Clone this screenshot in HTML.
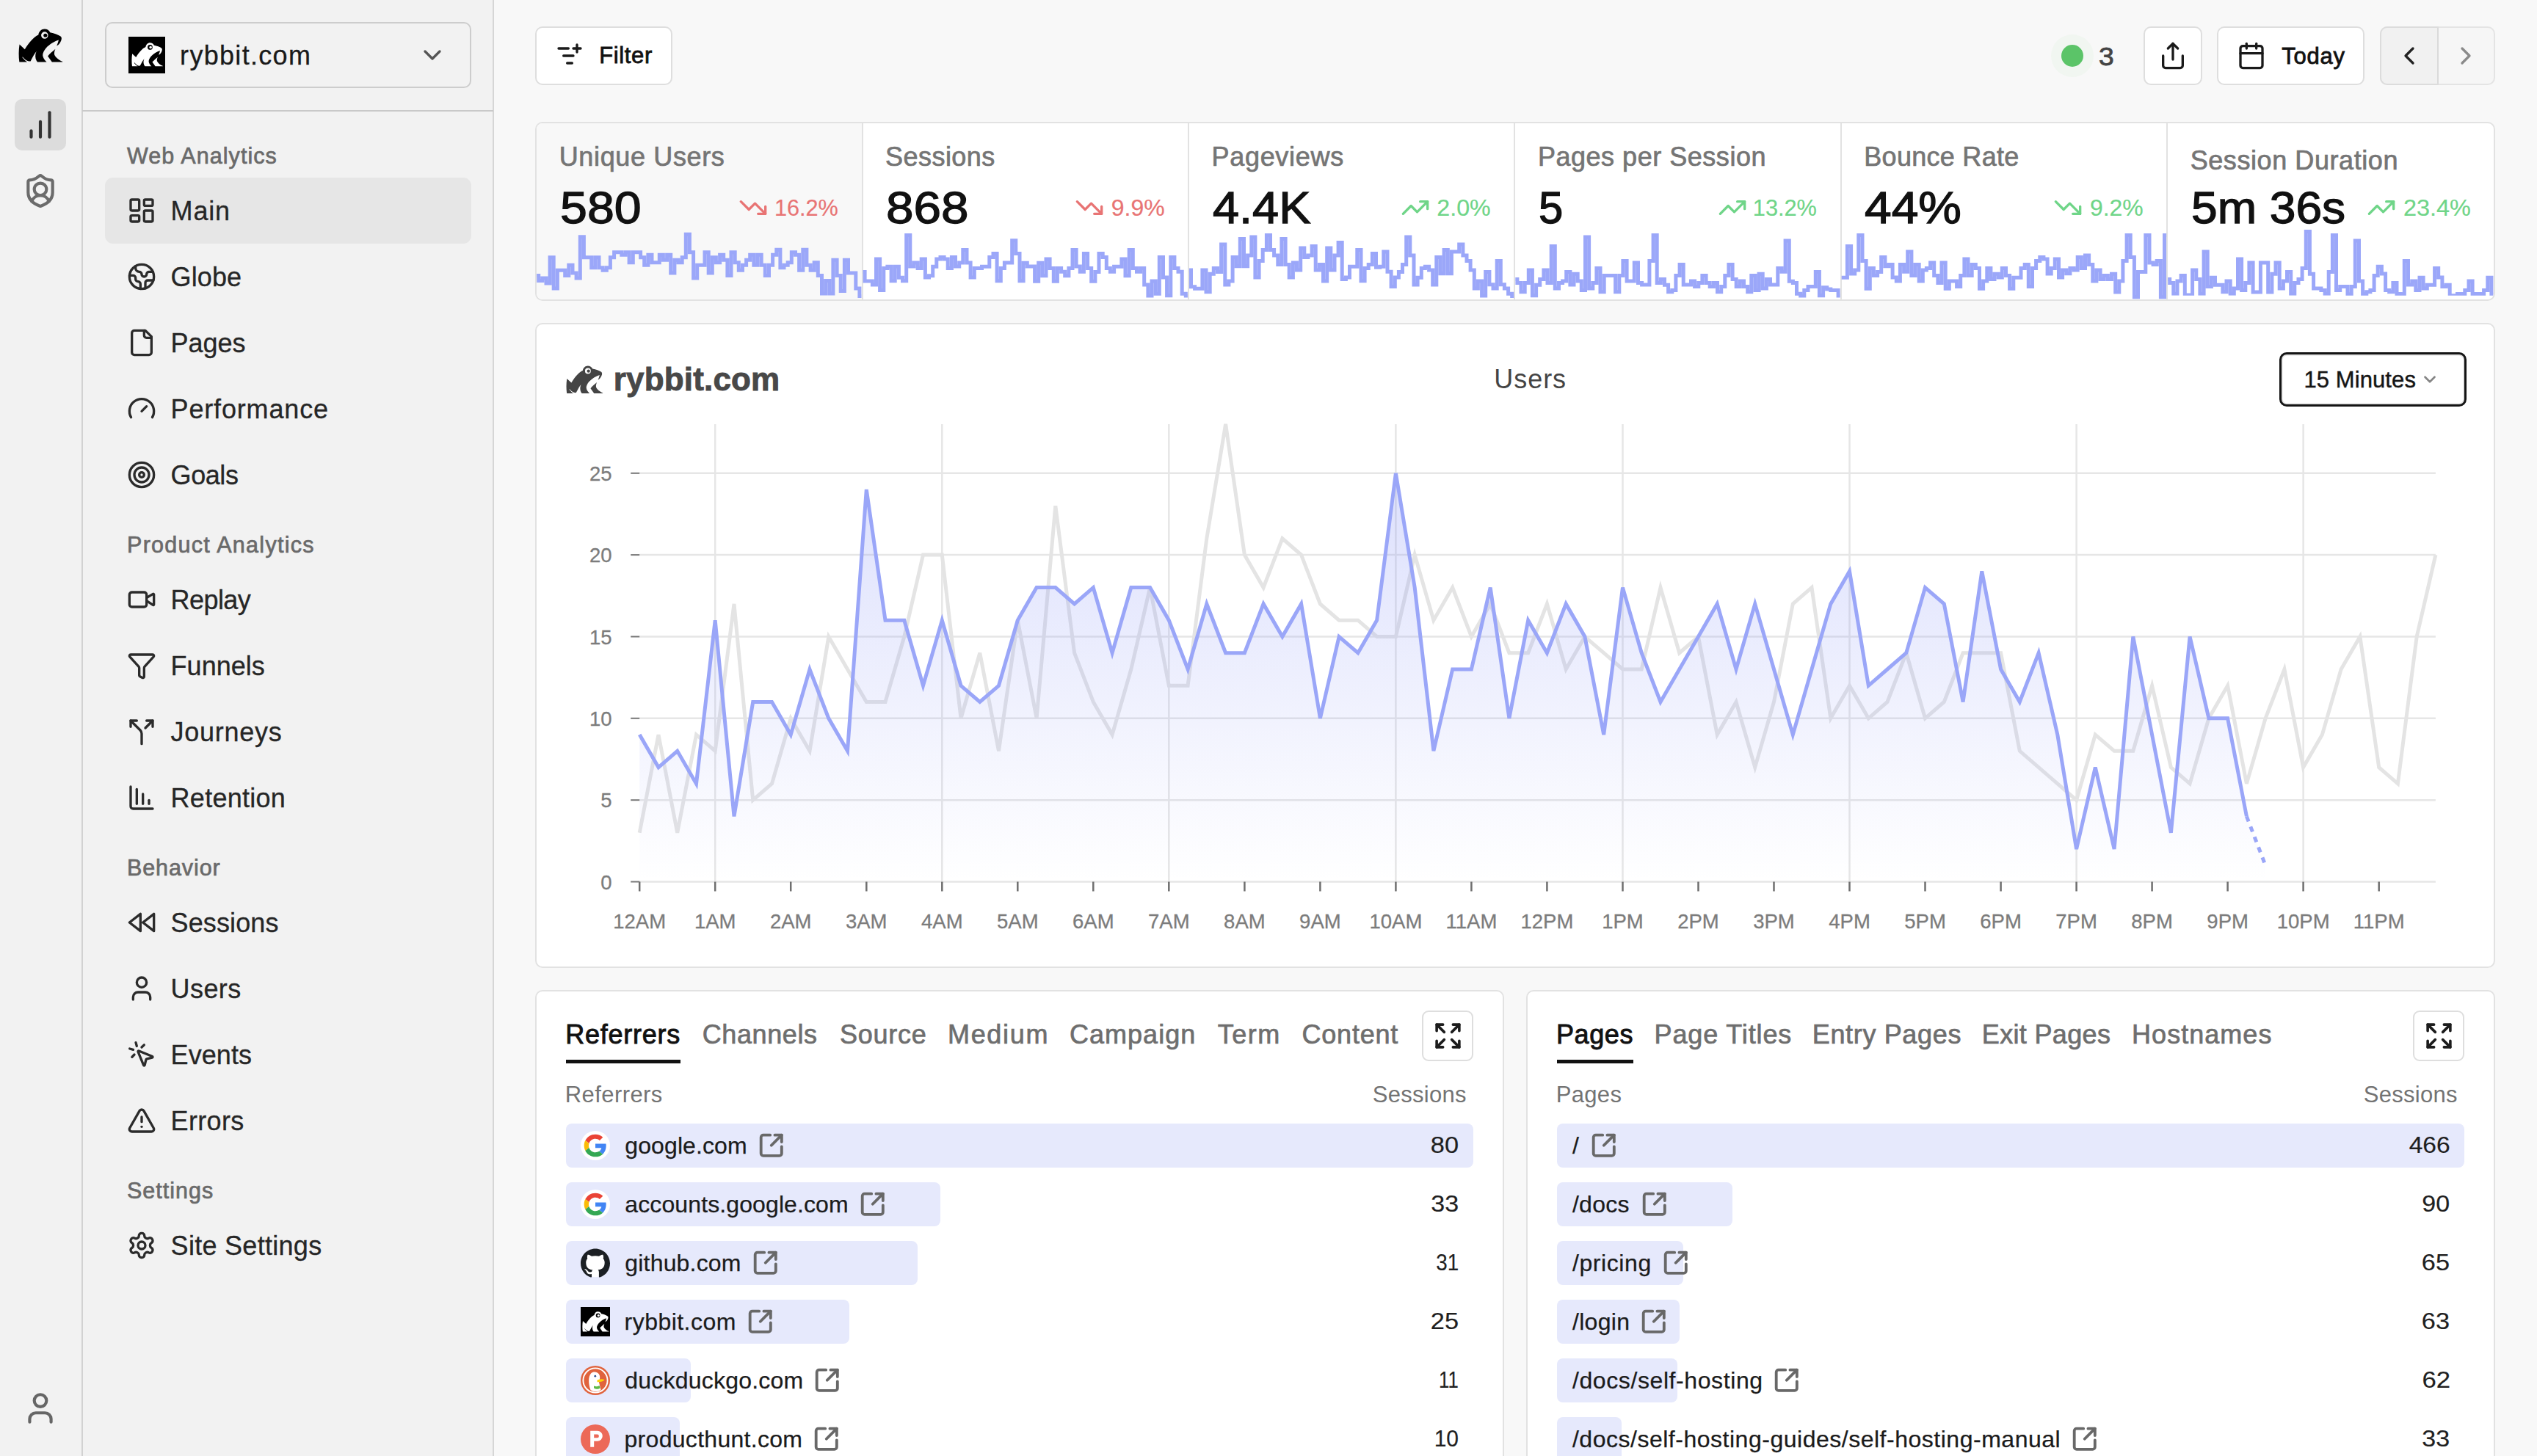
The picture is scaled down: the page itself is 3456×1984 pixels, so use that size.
<!DOCTYPE html>
<html><head><meta charset="utf-8"><title>Rybbit Analytics</title>
<style>
html,body{margin:0;padding:0;background:#f8f8f8;width:3456px;height:1984px;overflow:hidden;}
#root{position:relative;width:3456px;height:1984px;overflow:hidden;font-family:"Liberation Sans",sans-serif;}
.t{position:absolute;white-space:nowrap;}
.i{position:absolute;display:block;overflow:visible;}
.b{position:absolute;}
</style></head><body><div id="root">
<svg width="0" height="0" style="position:absolute"><defs><g id="frog">
<path fill-rule="evenodd" d="M245,1212 C222,1050 222,850 250,683 L410,830 C520,640 680,450 820,392 C832,290 915,215 1000,215 C1090,215 1150,260 1175,322 C1300,345 1420,390 1490,440 C1522,468 1528,500 1508,560 C1482,632 1440,692 1372,728 C1400,660 1420,600 1432,548 C1300,588 1150,680 1050,790 C990,860 950,940 950,1010 C955,1090 1010,1160 1068,1212 L790,1212 C740,1160 718,1060 733,980 C743,930 758,900 772,882 C700,960 650,1060 582,1190 C540,1197 500,1187 468,1170 C420,1140 380,1100 347,1058 L333,1068 C380,1130 430,1180 482,1212 Z M1113,405 A105,105 0 1,0 903,405 A105,105 0 1,0 1113,405 Z"/>
<circle cx="1030" cy="408" r="56"/>
<path d="M1332,818 C1250,890 1160,960 1103,1035 L1230,1212 L1548,1212 L1546,1198 C1450,1160 1340,1080 1303,990 C1290,930 1310,870 1332,818 Z"/>
</g></defs></svg>
<div class="b" style="left:0.00px;top:0.00px;width:3456.00px;height:1984.00px;background:#f8f8f8"></div>
<div class="b" style="left:0.00px;top:0.00px;width:673.00px;height:1984.00px;background:#f2f2f2"></div>
<div class="b" style="left:110.50px;top:0.00px;width:2.00px;height:1984.00px;background:#d2d2d2"></div>
<div class="b" style="left:671.20px;top:0.00px;width:2.00px;height:1984.00px;background:#d6d6d6"></div>
<div class="b" style="left:112.00px;top:149.50px;width:560.00px;height:2.50px;background:#c9c9c9"></div>
<svg class="i" style="left:24.50px;top:39.00px" width="60.50" height="45.47" viewBox="215 205 1340 1007"><use href="#frog" fill="#000"/></svg>
<div class="b" style="left:20.00px;top:135.00px;width:70.00px;height:70.00px;background:#dcdcdc;border-radius:10px"></div>
<svg class="i" style="left:30.00px;top:145.00px;" width="50" height="50" viewBox="0 0 24 24" fill="none" stroke="#333" stroke-width="2" stroke-linecap="round" stroke-linejoin="round"><line x1="12" x2="12" y1="20" y2="10"/><line x1="18" x2="18" y1="20" y2="4"/><line x1="6" x2="6" y1="20" y2="16"/></svg>
<svg class="i" style="left:30.00px;top:235.00px;" width="50" height="50" viewBox="0 0 24 24" fill="none" stroke="#6b6b6b" stroke-width="2" stroke-linecap="round" stroke-linejoin="round"><path d="M20 13c0 5-3.5 7.5-7.66 8.95a1 1 0 0 1-.67-.01C7.5 20.5 4 18 4 13V6a1 1 0 0 1 1-1c2 0 4.5-1.2 6.24-2.72a1.17 1.17 0 0 1 1.52 0C14.51 3.81 17 5 19 5a1 1 0 0 1 1 1z"/><path d="M6.376 18.91a6 6 0 0 1 11.249.003"/><circle cx="12" cy="11" r="4"/></svg>
<svg class="i" style="left:30.00px;top:1893.50px;" width="50" height="50" viewBox="0 0 24 24" fill="none" stroke="#666" stroke-width="2" stroke-linecap="round" stroke-linejoin="round"><path d="M19 21v-2a4 4 0 0 0-4-4H9a4 4 0 0 0-4 4v2"/><circle cx="12" cy="7" r="4"/></svg>
<div class="b" style="left:143.00px;top:30.00px;width:498.50px;height:90.00px;border:2px solid #cdcdcd;border-radius:10px;box-sizing:border-box"></div>
<div class="b" style="left:175.00px;top:50.00px;width:50.00px;height:50.00px;background:#000"></div>
<svg class="i" style="left:178.50px;top:58.00px" width="43.00" height="32.31" viewBox="215 205 1340 1007"><use href="#frog" fill="#fff"/></svg>
<span class="t" style="left:245.11px;top:57.53px;font-size:36px;line-height:36px;color:#1a1a1a;font-weight:400;letter-spacing:1.304px;-webkit-text-stroke:0.3px #1a1a1a;">rybbit.com</span>
<svg class="i" style="left:568.75px;top:55.00px;" width="40" height="40" viewBox="0 0 24 24" fill="none" stroke="#555" stroke-width="2" stroke-linecap="round" stroke-linejoin="round"><path d="m6 9 6 6 6-6"/></svg>
<span class="t" style="left:173.00px;top:196.78px;font-size:30.5px;line-height:30.5px;color:#6a6a6a;font-weight:400;letter-spacing:1.07px;-webkit-text-stroke:0.7px #6a6a6a;">Web Analytics</span>
<div class="b" style="left:143.00px;top:242.00px;width:498.50px;height:90.00px;background:#e6e6e6;border-radius:11px"></div>
<svg class="i" style="left:172.75px;top:266.50px;" width="40" height="40" viewBox="0 0 24 24" fill="none" stroke="#2b2b2b" stroke-width="2" stroke-linecap="round" stroke-linejoin="round"><rect width="7" height="9" x="3" y="3" rx="1"/><rect width="7" height="5" x="14" y="3" rx="1"/><rect width="7" height="9" x="14" y="12" rx="1"/><rect width="7" height="5" x="3" y="16" rx="1"/></svg>
<span class="t" style="left:232.60px;top:269.63px;font-size:36px;line-height:36px;color:#262626;font-weight:400;letter-spacing:0.827px;-webkit-text-stroke:0.3px #262626;">Main</span>
<svg class="i" style="left:172.75px;top:356.50px;" width="40" height="40" viewBox="0 0 24 24" fill="none" stroke="#2b2b2b" stroke-width="2" stroke-linecap="round" stroke-linejoin="round"><path d="M21.54 15H17a2 2 0 0 0-2 2v4.54"/><path d="M7 3.34V5a3 3 0 0 0 3 3a2 2 0 0 1 2 2c0 1.1.9 2 2 2a2 2 0 0 0 2-2c0-1.1.9-2 2-2h3.17"/><path d="M11 21.95V18a2 2 0 0 0-2-2a2 2 0 0 1-2-2v-1a2 2 0 0 0-2-2H2.05"/><circle cx="12" cy="12" r="10"/></svg>
<span class="t" style="left:232.60px;top:359.63px;font-size:36px;line-height:36px;color:#262626;font-weight:400;letter-spacing:0.095px;-webkit-text-stroke:0.3px #262626;">Globe</span>
<svg class="i" style="left:172.75px;top:446.50px;" width="40" height="40" viewBox="0 0 24 24" fill="none" stroke="#2b2b2b" stroke-width="2" stroke-linecap="round" stroke-linejoin="round"><path d="M15 2H6a2 2 0 0 0-2 2v16a2 2 0 0 0 2 2h12a2 2 0 0 0 2-2V7Z"/><path d="M14 2v4a2 2 0 0 0 2 2h4"/></svg>
<span class="t" style="left:232.60px;top:449.63px;font-size:36px;line-height:36px;color:#262626;font-weight:400;letter-spacing:-0.03px;-webkit-text-stroke:0.3px #262626;">Pages</span>
<svg class="i" style="left:172.75px;top:536.50px;" width="40" height="40" viewBox="0 0 24 24" fill="none" stroke="#2b2b2b" stroke-width="2" stroke-linecap="round" stroke-linejoin="round"><path d="m12 14 4-4"/><path d="M3.34 19a10 10 0 1 1 17.32 0"/></svg>
<span class="t" style="left:232.60px;top:539.63px;font-size:36px;line-height:36px;color:#262626;font-weight:400;letter-spacing:0.83px;-webkit-text-stroke:0.3px #262626;">Performance</span>
<svg class="i" style="left:172.75px;top:626.50px;" width="40" height="40" viewBox="0 0 24 24" fill="none" stroke="#2b2b2b" stroke-width="2" stroke-linecap="round" stroke-linejoin="round"><circle cx="12" cy="12" r="10"/><circle cx="12" cy="12" r="6"/><circle cx="12" cy="12" r="2"/></svg>
<span class="t" style="left:232.60px;top:629.63px;font-size:36px;line-height:36px;color:#262626;font-weight:400;letter-spacing:-0.425px;-webkit-text-stroke:0.3px #262626;">Goals</span>
<span class="t" style="left:173.00px;top:727.28px;font-size:30.5px;line-height:30.5px;color:#6a6a6a;font-weight:400;letter-spacing:1.286px;-webkit-text-stroke:0.7px #6a6a6a;">Product Analytics</span>
<svg class="i" style="left:172.75px;top:796.50px;" width="40" height="40" viewBox="0 0 24 24" fill="none" stroke="#2b2b2b" stroke-width="2" stroke-linecap="round" stroke-linejoin="round"><path d="m16 13 5.223 3.482a.5.5 0 0 0 .777-.416V7.87a.5.5 0 0 0-.752-.432L16 10.5"/><rect x="2" y="6" width="14" height="12" rx="2"/></svg>
<span class="t" style="left:232.60px;top:799.63px;font-size:36px;line-height:36px;color:#262626;font-weight:400;letter-spacing:-0.572px;-webkit-text-stroke:0.3px #262626;">Replay</span>
<svg class="i" style="left:172.75px;top:886.50px;" width="40" height="40" viewBox="0 0 24 24" fill="none" stroke="#2b2b2b" stroke-width="2" stroke-linecap="round" stroke-linejoin="round"><path d="M10 20a1 1 0 0 0 .553.895l2 1A1 1 0 0 0 14 21v-7a2 2 0 0 1 .517-1.341L21.74 4.67A1 1 0 0 0 21 3H3a1 1 0 0 0-.742 1.67l7.225 7.989A2 2 0 0 1 10 14z"/></svg>
<span class="t" style="left:232.60px;top:889.63px;font-size:36px;line-height:36px;color:#262626;font-weight:400;letter-spacing:0.013px;-webkit-text-stroke:0.3px #262626;">Funnels</span>
<svg class="i" style="left:172.75px;top:976.50px;" width="40" height="40" viewBox="0 0 24 24" fill="none" stroke="#2b2b2b" stroke-width="2" stroke-linecap="round" stroke-linejoin="round"><path d="M16 3h5v5"/><path d="M8 3H3v5"/><path d="M12 22v-8.3a4 4 0 0 0-1.172-2.872L3 3"/><path d="m15 9 6-6"/></svg>
<span class="t" style="left:232.60px;top:979.63px;font-size:36px;line-height:36px;color:#262626;font-weight:400;letter-spacing:0.734px;-webkit-text-stroke:0.3px #262626;">Journeys</span>
<svg class="i" style="left:172.75px;top:1066.50px;" width="40" height="40" viewBox="0 0 24 24" fill="none" stroke="#2b2b2b" stroke-width="2" stroke-linecap="round" stroke-linejoin="round"><path d="M13 17V9"/><path d="M18 17v-3"/><path d="M3 3v16a2 2 0 0 0 2 2h16"/><path d="M8 17V5"/></svg>
<span class="t" style="left:232.60px;top:1069.63px;font-size:36px;line-height:36px;color:#262626;font-weight:400;letter-spacing:0.268px;-webkit-text-stroke:0.3px #262626;">Retention</span>
<span class="t" style="left:173.00px;top:1167.28px;font-size:30.5px;line-height:30.5px;color:#6a6a6a;font-weight:400;letter-spacing:0.896px;-webkit-text-stroke:0.7px #6a6a6a;">Behavior</span>
<svg class="i" style="left:172.75px;top:1236.50px;" width="40" height="40" viewBox="0 0 24 24" fill="none" stroke="#2b2b2b" stroke-width="2" stroke-linecap="round" stroke-linejoin="round"><polygon points="11 19 2 12 11 5 11 19"/><polygon points="22 19 13 12 22 5 22 19"/></svg>
<span class="t" style="left:232.60px;top:1239.63px;font-size:36px;line-height:36px;color:#262626;font-weight:400;letter-spacing:0.103px;-webkit-text-stroke:0.3px #262626;">Sessions</span>
<svg class="i" style="left:172.75px;top:1326.50px;" width="40" height="40" viewBox="0 0 24 24" fill="none" stroke="#2b2b2b" stroke-width="2" stroke-linecap="round" stroke-linejoin="round"><path d="M19 21v-2a4 4 0 0 0-4-4H9a4 4 0 0 0-4 4v2"/><circle cx="12" cy="7" r="4"/></svg>
<span class="t" style="left:232.60px;top:1329.63px;font-size:36px;line-height:36px;color:#262626;font-weight:400;letter-spacing:0.4px;-webkit-text-stroke:0.3px #262626;">Users</span>
<svg class="i" style="left:172.75px;top:1416.50px;" width="40" height="40" viewBox="0 0 24 24" fill="none" stroke="#2b2b2b" stroke-width="2" stroke-linecap="round" stroke-linejoin="round"><path d="M14 4.1 12 6"/><path d="m5.1 8-2.9-.8"/><path d="m6 12-1.9 2"/><path d="M7.2 2.2 8 5.1"/><path d="M9.037 9.69a.498.498 0 0 1 .653-.653l11 4.5a.5.5 0 0 1-.074.949l-4.349 1.041a1 1 0 0 0-.74.739l-1.04 4.35a.5.5 0 0 1-.95.074z"/></svg>
<span class="t" style="left:232.60px;top:1419.63px;font-size:36px;line-height:36px;color:#262626;font-weight:400;letter-spacing:0.072px;-webkit-text-stroke:0.3px #262626;">Events</span>
<svg class="i" style="left:172.75px;top:1506.50px;" width="40" height="40" viewBox="0 0 24 24" fill="none" stroke="#2b2b2b" stroke-width="2" stroke-linecap="round" stroke-linejoin="round"><path d="m21.73 18-8-14a2 2 0 0 0-3.48 0l-8 14A2 2 0 0 0 4 21h16a2 2 0 0 0 1.73-3"/><path d="M12 9v4"/><path d="M12 17h.01"/></svg>
<span class="t" style="left:232.60px;top:1509.63px;font-size:36px;line-height:36px;color:#262626;font-weight:400;letter-spacing:0.324px;-webkit-text-stroke:0.3px #262626;">Errors</span>
<span class="t" style="left:173.00px;top:1607.28px;font-size:30.5px;line-height:30.5px;color:#6a6a6a;font-weight:400;letter-spacing:1.012px;-webkit-text-stroke:0.7px #6a6a6a;">Settings</span>
<svg class="i" style="left:172.75px;top:1676.50px;" width="40" height="40" viewBox="0 0 24 24" fill="none" stroke="#2b2b2b" stroke-width="2" stroke-linecap="round" stroke-linejoin="round"><path d="M12.22 2h-.44a2 2 0 0 0-2 2v.18a2 2 0 0 1-1 1.73l-.43.25a2 2 0 0 1-2 0l-.15-.08a2 2 0 0 0-2.73.73l-.22.38a2 2 0 0 0 .73 2.73l.15.1a2 2 0 0 1 1 1.72v.51a2 2 0 0 1-1 1.74l-.15.09a2 2 0 0 0-.73 2.73l.22.38a2 2 0 0 0 2.73.73l.15-.08a2 2 0 0 1 2 0l.43.25a2 2 0 0 1 1 1.73V20a2 2 0 0 0 2 2h.44a2 2 0 0 0 2-2v-.18a2 2 0 0 1 1-1.73l.43-.25a2 2 0 0 1 2 0l.15.08a2 2 0 0 0 2.73-.73l.22-.39a2 2 0 0 0-.73-2.73l-.15-.08a2 2 0 0 1-1-1.74v-.5a2 2 0 0 1 1-1.74l.15-.09a2 2 0 0 0 .73-2.73l-.22-.38a2 2 0 0 0-2.73-.73l-.15.08a2 2 0 0 1-2 0l-.43-.25a2 2 0 0 1-1-1.73V4a2 2 0 0 0-2-2z"/><circle cx="12" cy="12" r="3"/></svg>
<span class="t" style="left:232.60px;top:1679.63px;font-size:36px;line-height:36px;color:#262626;font-weight:400;letter-spacing:0.287px;-webkit-text-stroke:0.3px #262626;">Site Settings</span>
<div class="b" style="left:729.00px;top:36.00px;width:186.50px;height:79.50px;background:#fff;border:2px solid #dedede;border-radius:10px;box-sizing:border-box"></div>
<svg class="i" style="left:756.00px;top:55.50px;" width="40" height="40" viewBox="0 0 24 24" fill="none" stroke="#1a1a1a" stroke-width="2" stroke-linecap="round" stroke-linejoin="round"><path d="M10 18h4"/><path d="M11 6H3"/><path d="M15 6h6"/><path d="M18 9V3"/><path d="M7 12h8"/></svg>
<span class="t" style="left:816.22px;top:60.36px;font-size:31px;line-height:31px;color:#111;font-weight:400;letter-spacing:0.625px;-webkit-text-stroke:0.8px #111;">Filter</span>
<div class="b" style="left:2794.00px;top:47.00px;width:58.00px;height:58.00px;background:#f1f6f1;border-radius:50%"></div>
<div class="b" style="left:2808.00px;top:61.00px;width:30.00px;height:30.00px;background:#5bc468;border-radius:50%"></div>
<span class="t" style="left:2858.91px;top:58.87px;font-size:35px;line-height:35px;color:#444;font-weight:400;-webkit-text-stroke:0.8px #444;transform:scaleX(1.0647);transform-origin:0 0;">3</span>
<div class="b" style="left:2920.00px;top:36.00px;width:79.50px;height:79.50px;background:#fff;border:2px solid #dedede;border-radius:10px;box-sizing:border-box"></div>
<svg class="i" style="left:2940.00px;top:56.00px;" width="40" height="40" viewBox="0 0 24 24" fill="none" stroke="#1a1a1a" stroke-width="2" stroke-linecap="round" stroke-linejoin="round"><path d="M12 2v13"/><path d="m16 6-4-4-4 4"/><path d="M4 12v8a2 2 0 0 0 2 2h12a2 2 0 0 0 2-2v-8"/></svg>
<div class="b" style="left:3020.00px;top:36.00px;width:201.00px;height:79.50px;background:#fff;border:2px solid #dedede;border-radius:10px;box-sizing:border-box"></div>
<svg class="i" style="left:3047.00px;top:56.00px;" width="40" height="40" viewBox="0 0 24 24" fill="none" stroke="#1a1a1a" stroke-width="2" stroke-linecap="round" stroke-linejoin="round"><path d="M8 2v4"/><path d="M16 2v4"/><rect width="18" height="18" x="3" y="4" rx="2"/><path d="M3 10h18"/></svg>
<span class="t" style="left:3108.28px;top:61.26px;font-size:31px;line-height:31px;color:#111;font-weight:400;letter-spacing:0.763px;-webkit-text-stroke:0.8px #111;">Today</span>
<div class="b" style="left:3242.00px;top:36.00px;width:157.00px;height:79.50px;background:#f6f6f6;border:2px solid #e4e4e4;border-radius:10px;box-sizing:border-box"></div>
<div class="b" style="left:3242.00px;top:36.00px;width:79.50px;height:79.50px;background:#f1f1f1;border:2px solid #dcdcdc;border-right:none;border-radius:10px 0 0 10px;box-sizing:border-box"></div>
<div class="b" style="left:3319.70px;top:38.00px;width:2.00px;height:75.50px;background:#dadada"></div>
<svg class="i" style="left:3261.50px;top:56.00px;" width="40" height="40" viewBox="0 0 24 24" fill="none" stroke="#222" stroke-width="2" stroke-linecap="round" stroke-linejoin="round"><path d="m15 18-6-6 6-6"/></svg>
<svg class="i" style="left:3339.00px;top:56.00px;" width="40" height="40" viewBox="0 0 24 24" fill="none" stroke="#8a8a8a" stroke-width="2" stroke-linecap="round" stroke-linejoin="round"><path d="m9 18 6-6-6-6"/></svg>
<div class="b" style="left:729.00px;top:166.00px;width:2670.00px;height:244.00px;background:#fff;border:2px solid #e2e2e2;border-radius:10px;box-sizing:border-box;overflow:hidden"></div>
<div class="b" style="left:731.00px;top:168.00px;width:443.50px;height:240.00px;background:#f8f8f8;border-radius:8px 0 0 8px"></div>
<span class="t" style="left:761.70px;top:195.53px;font-size:36px;line-height:36px;color:#757575;font-weight:400;letter-spacing:0.645px;-webkit-text-stroke:0.7px #757575;">Unique Users</span>
<span class="t" style="left:762.70px;top:253.36px;font-size:61px;line-height:61px;color:#111;font-weight:400;-webkit-text-stroke:1.3px #111;transform:scaleX(1.0872);transform-origin:0 0;">580</span>
<span class="t" style="right:2314.01px;top:268.26px;font-size:31px;line-height:31px;color:#e87474;font-weight:400;-webkit-text-stroke:0.2px #e87474;transform:scaleX(0.9896);transform-origin:100% 0;">16.2%</span>
<svg class="i" style="left:1006.40px;top:263.00px;" width="40" height="40" viewBox="0 0 24 24" fill="none" stroke="#e87474" stroke-width="2" stroke-linecap="round" stroke-linejoin="round"><polyline points="22 17 13.5 8.5 8.5 13.5 2 7"/><polyline points="16 17 22 17 22 11"/></svg>
<div class="b" style="left:1173.50px;top:168.00px;width:2.00px;height:240.00px;background:#e2e2e2"></div>
<span class="t" style="left:1206.10px;top:195.53px;font-size:36px;line-height:36px;color:#757575;font-weight:400;letter-spacing:0.446px;-webkit-text-stroke:0.7px #757575;">Sessions</span>
<span class="t" style="left:1207.10px;top:253.36px;font-size:61px;line-height:61px;color:#111;font-weight:400;-webkit-text-stroke:1.3px #111;transform:scaleX(1.1050);transform-origin:0 0;">868</span>
<span class="t" style="right:1869.60px;top:268.26px;font-size:31px;line-height:31px;color:#e87474;font-weight:400;-webkit-text-stroke:0.2px #e87474;transform:scaleX(1.0308);transform-origin:100% 0;">9.9%</span>
<svg class="i" style="left:1464.10px;top:263.00px;" width="40" height="40" viewBox="0 0 24 24" fill="none" stroke="#e87474" stroke-width="2" stroke-linecap="round" stroke-linejoin="round"><polyline points="22 17 13.5 8.5 8.5 13.5 2 7"/><polyline points="16 17 22 17 22 11"/></svg>
<div class="b" style="left:1617.90px;top:168.00px;width:2.00px;height:240.00px;background:#e2e2e2"></div>
<span class="t" style="left:1650.50px;top:195.53px;font-size:36px;line-height:36px;color:#757575;font-weight:400;letter-spacing:0.698px;-webkit-text-stroke:0.7px #757575;">Pageviews</span>
<span class="t" style="left:1651.50px;top:253.36px;font-size:61px;line-height:61px;color:#111;font-weight:400;-webkit-text-stroke:1.3px #111;transform:scaleX(1.0629);transform-origin:0 0;">4.4K</span>
<span class="t" style="right:1425.20px;top:268.26px;font-size:31px;line-height:31px;color:#6fd588;font-weight:400;-webkit-text-stroke:0.2px #6fd588;transform:scaleX(1.0375);transform-origin:100% 0;">2.0%</span>
<svg class="i" style="left:1908.20px;top:263.00px;" width="40" height="40" viewBox="0 0 24 24" fill="none" stroke="#6fd588" stroke-width="2" stroke-linecap="round" stroke-linejoin="round"><polyline points="22 7 13.5 15.5 8.5 10.5 2 17"/><polyline points="16 7 22 7 22 13"/></svg>
<div class="b" style="left:2062.30px;top:168.00px;width:2.00px;height:240.00px;background:#e2e2e2"></div>
<span class="t" style="left:2094.90px;top:195.53px;font-size:36px;line-height:36px;color:#757575;font-weight:400;letter-spacing:0.525px;-webkit-text-stroke:0.7px #757575;">Pages per Session</span>
<span class="t" style="left:2095.90px;top:253.36px;font-size:61px;line-height:61px;color:#111;font-weight:400;-webkit-text-stroke:1.3px #111;transform:scaleX(0.9802);transform-origin:0 0;">5</span>
<span class="t" style="right:980.81px;top:268.26px;font-size:31px;line-height:31px;color:#6fd588;font-weight:400;-webkit-text-stroke:0.2px #6fd588;transform:scaleX(0.9908);transform-origin:100% 0;">13.2%</span>
<svg class="i" style="left:2339.50px;top:263.00px;" width="40" height="40" viewBox="0 0 24 24" fill="none" stroke="#6fd588" stroke-width="2" stroke-linecap="round" stroke-linejoin="round"><polyline points="22 7 13.5 15.5 8.5 10.5 2 17"/><polyline points="16 7 22 7 22 13"/></svg>
<div class="b" style="left:2506.70px;top:168.00px;width:2.00px;height:240.00px;background:#e2e2e2"></div>
<span class="t" style="left:2539.30px;top:195.53px;font-size:36px;line-height:36px;color:#757575;font-weight:400;letter-spacing:0.282px;-webkit-text-stroke:0.7px #757575;">Bounce Rate</span>
<span class="t" style="left:2540.30px;top:253.36px;font-size:61px;line-height:61px;color:#111;font-weight:400;-webkit-text-stroke:1.3px #111;transform:scaleX(1.0797);transform-origin:0 0;">44%</span>
<span class="t" style="right:536.41px;top:268.26px;font-size:31px;line-height:31px;color:#6fd588;font-weight:400;-webkit-text-stroke:0.2px #6fd588;transform:scaleX(1.0293);transform-origin:100% 0;">9.2%</span>
<svg class="i" style="left:2797.40px;top:263.00px;" width="40" height="40" viewBox="0 0 24 24" fill="none" stroke="#6fd588" stroke-width="2" stroke-linecap="round" stroke-linejoin="round"><polyline points="22 17 13.5 8.5 8.5 13.5 2 7"/><polyline points="16 17 22 17 22 11"/></svg>
<div class="b" style="left:2951.10px;top:168.00px;width:2.00px;height:240.00px;background:#e2e2e2"></div>
<span class="t" style="left:2983.70px;top:200.53px;font-size:36px;line-height:36px;color:#757575;font-weight:400;letter-spacing:0.575px;-webkit-text-stroke:0.7px #757575;">Session Duration</span>
<span class="t" style="left:2984.70px;top:253.36px;font-size:61px;line-height:61px;color:#111;font-weight:400;-webkit-text-stroke:1.3px #111;transform:scaleX(1.0506);transform-origin:0 0;">5m 36s</span>
<span class="t" style="right:90.45px;top:268.26px;font-size:31px;line-height:31px;color:#6fd588;font-weight:400;-webkit-text-stroke:0.2px #6fd588;transform:scaleX(1.0452);transform-origin:100% 0;">23.4%</span>
<svg class="i" style="left:3224.40px;top:263.00px;" width="40" height="40" viewBox="0 0 24 24" fill="none" stroke="#6fd588" stroke-width="2" stroke-linecap="round" stroke-linejoin="round"><polyline points="22 7 13.5 15.5 8.5 10.5 2 17"/><polyline points="16 7 22 7 22 13"/></svg>
<svg class="i" style="left:0;top:0" width="3456" height="420" viewBox="0 0 3456 420"><defs><clipPath id="sc"><rect x="731" y="166" width="2666" height="242" rx="8"/></clipPath><clipPath id="sd"><rect x="2900" y="300" width="520" height="102.7"/></clipPath></defs><g clip-path="url(#sc)"><path d="M731.1,375.4H733.7V382.4H736.2H738.8V378.9H741.4H744.0V385.9H746.5H749.1V350.8H751.7H754.2V392.9H756.8H759.4V368.3H762.0H764.5V368.3H767.1H769.7V375.4H772.3H774.8V361.3H777.4H780.0V371.9H782.5H785.1V378.9H787.7H790.3V322.8H792.8H795.4V350.8H798.0H800.5V350.8H803.1H805.7V364.8H808.3H810.8V350.8H813.4H816.0V364.8H818.6H821.1V368.3H823.7H826.3V364.8H828.8H831.4V350.8H834.0H836.6V343.8H839.1H841.7V343.8H844.3H846.8V347.3H849.4H852.0V343.8H854.6H857.1V357.8H859.7H862.3V343.8H864.8H867.4V343.8H870.0H872.6V350.8H875.1H877.7V361.3H880.3H882.9V347.3H885.4H888.0V357.8H890.6H893.1V357.8H895.7H898.3V347.3H900.9H903.4V354.3H906.0H908.6V347.3H911.1H913.7V371.9H916.3H918.9V354.3H921.4H924.0V357.8H926.6H929.2V350.8H931.7H934.3V319.3H936.9H939.4V343.8H942.0H944.6V378.9H947.2H949.7V361.3H952.3H954.9V361.3H957.4H960.0V343.8H962.6H965.2V371.9H967.7H970.3V350.8H972.9H975.4V357.8H978.0H980.6V347.3H983.2H985.7V354.3H988.3H990.9V375.4H993.5H996.0V343.8H998.6H1001.2V357.8H1003.7H1006.3V368.3H1008.9H1011.5V361.3H1014.0H1016.6V354.3H1019.2H1021.7V347.3H1024.3H1026.9V361.3H1029.5H1032.0V347.3H1034.6H1037.2V361.3H1039.8H1042.3V375.4H1044.9H1047.5V361.3H1050.0H1052.6V347.3H1055.2H1057.8V340.3H1060.3H1062.9V364.8H1065.5H1068.0V361.3H1070.6H1073.2V357.8H1075.8H1078.3V343.8H1080.9H1083.5V347.3H1086.0H1088.6V368.3H1091.2H1093.8V340.3H1096.3H1098.9V361.3H1101.5H1104.1V368.3H1106.6H1109.2V357.8H1111.8H1114.3V375.4H1116.9H1119.5V399.9H1122.1H1124.6V382.4H1127.2H1129.8V399.9H1132.3H1134.9V354.3H1137.5H1140.1V375.4H1142.6H1145.2V396.4H1147.8H1150.4V354.3H1152.9H1155.5V371.9H1158.1H1160.6V371.9H1163.2H1165.8V392.9H1168.4H1170.9V403.4H1173.5" fill="none" stroke="#9ba7f9" stroke-width="5" stroke-linejoin="miter"/><path d="M1175.5,370.5H1178.1V382.9H1180.6H1183.2V382.9H1185.8H1188.4V388.1H1190.9H1193.5V353.0H1196.1H1198.6V395.4H1201.2H1203.8V365.6H1206.4H1208.9V363.2H1211.5H1214.1V382.8H1216.7H1219.2V363.2H1221.8H1224.4V378.3H1226.9H1229.5V382.8H1232.1H1234.7V320.4H1237.2H1239.8V363.1H1242.4H1244.9V358.1H1247.5H1250.1V365.5H1252.7H1255.2V353.0H1257.8H1260.4V378.1H1263.0H1265.5V375.7H1268.1H1270.7V363.2H1273.2H1275.8V353.0H1278.4H1281.0V350.5H1283.5H1286.1V353.0H1288.7H1291.2V365.5H1293.8H1296.4V350.5H1299.0H1301.5V363.1H1304.1H1306.7V358.1H1309.2H1311.8V340.5H1314.4H1317.0V358.1H1319.5H1322.1V378.1H1324.7H1327.3V365.6H1329.8H1332.4V365.6H1335.0H1337.5V363.2H1340.1H1342.7V363.2H1345.3H1347.8V350.5H1350.4H1353.0V345.4H1355.5H1358.1V382.8H1360.7H1363.3V365.5H1365.8H1368.4V358.1H1371.0H1373.6V358.1H1376.1H1378.7V327.7H1381.3H1383.8V345.4H1386.4H1389.0V382.8H1391.6H1394.1V358.3H1396.7H1399.3V363.1H1401.8H1404.4V363.1H1407.0H1409.6V383.2H1412.1H1414.7V358.3H1417.3H1419.8V375.7H1422.4H1425.0V353.0H1427.6H1430.1V365.6H1432.7H1435.3V383.2H1437.9H1440.4V365.6H1443.0H1445.6V370.3H1448.1H1450.7V375.7H1453.3H1455.9V365.6H1458.4H1461.0V340.5H1463.6H1466.1V363.1H1468.7H1471.3V370.3H1473.9H1476.4V345.4H1479.0H1481.6V365.5H1484.2H1486.7V383.2H1489.3H1491.9V370.5H1494.4H1497.0V345.4H1499.6H1502.2V350.5H1504.7H1507.3V365.5H1509.9H1512.4V370.3H1515.0H1517.6V363.2H1520.2H1522.7V363.2H1525.3H1527.9V353.0H1530.4H1533.0V375.7H1535.6H1538.2V340.5H1540.7H1543.3V365.5H1545.9H1548.5V370.3H1551.0H1553.6V365.6H1556.2H1558.7V388.1H1561.3H1563.9V403.0H1566.5H1569.0V383.1H1571.6H1574.2V400.3H1576.7H1579.3V350.5H1581.9H1584.5V378.1H1587.0H1589.6V402.7H1592.2H1594.8V350.5H1597.3H1599.9V365.6H1602.5H1605.0V370.3H1607.6H1610.2V400.3H1612.8H1615.3V403.0H1617.9" fill="none" stroke="#9ba7f9" stroke-width="5" stroke-linejoin="miter"/><path d="M1619.9,368.0H1622.5V390.7H1625.0H1627.6V393.2H1630.2H1632.8V393.2H1635.3H1637.9V368.0H1640.5H1643.0V397.8H1645.6H1648.2V373.2H1650.8H1653.3V365.6H1655.9H1658.5V370.5H1661.1H1663.6V333.0H1666.2H1668.8V388.1H1671.3H1673.9V383.1H1676.5H1679.1V350.5H1681.6H1684.2V362.8H1686.8H1689.3V325.5H1691.9H1694.5V362.8H1697.1H1699.6V348.0H1702.2H1704.8V323.0H1707.4H1709.9V377.9H1712.5H1715.1V355.4H1717.6H1720.2V340.5H1722.8H1725.4V320.4H1727.9H1730.5V340.5H1733.1H1735.6V348.1H1738.2H1740.8V360.4H1743.4H1745.9V325.5H1748.5H1751.1V360.5H1753.6H1756.2V378.1H1758.8H1761.4V358.1H1763.9H1766.5V367.9H1769.1H1771.7V338.1H1774.2H1776.8V350.6H1779.4H1781.9V348.1H1784.5H1787.1V335.5H1789.7H1792.2V367.9H1794.8H1797.4V360.5H1799.9H1802.5V382.9H1805.1H1807.7V338.1H1810.2H1812.8V367.9H1815.4H1818.0V348.1H1820.5H1823.1V330.5H1825.7H1828.2V380.5H1830.8H1833.4V378.1H1836.0H1838.5V363.2H1841.1H1843.7V363.2H1846.2H1848.8V340.5H1851.4H1854.0V382.8H1856.5H1859.1V365.6H1861.7H1864.2V360.5H1866.8H1869.4V345.4H1872.0H1874.5V364.3H1877.1H1879.7V363.2H1882.3H1884.8V343.0H1887.4H1890.0V370.3H1892.5H1895.1V390.6H1897.7H1900.3V377.9H1902.8H1905.4V370.5H1908.0H1910.5V360.5H1913.1H1915.7V323.0H1918.3H1920.8V348.1H1923.4H1926.0V388.1H1928.6H1931.1V378.2H1933.7H1936.3V365.6H1938.8H1941.4V363.2H1944.0H1946.6V368.0H1949.1H1951.7V388.1H1954.3H1956.8V350.5H1959.4H1962.0V372.8H1964.6H1967.1V340.5H1969.7H1972.3V372.8H1974.8H1977.4V343.0H1980.0H1982.6V343.0H1985.1H1987.7V333.0H1990.3H1992.9V348.1H1995.4H1998.0V355.4H2000.6H2003.1V368.0H2005.7H2008.3V393.0H2010.9H2013.4V383.1H2016.0H2018.6V403.0H2021.1H2023.7V370.5H2026.3H2028.9V387.8H2031.4H2034.0V393.0H2036.6H2039.2V355.4H2041.7H2044.3V387.8H2046.9H2049.4V393.0H2052.0H2054.6V400.3H2057.2H2059.7V403.4H2062.3" fill="none" stroke="#9ba7f9" stroke-width="5" stroke-linejoin="miter"/><path d="M2064.3,380.5H2066.9V385.6H2069.4H2072.0V397.8H2074.6H2077.2V385.6H2079.7H2082.3V368.0H2084.9H2087.4V402.7H2090.0H2092.6V388.3H2095.2H2097.7V380.5H2100.3H2102.9V368.0H2105.5H2108.0V385.4H2110.6H2113.2V335.5H2115.7H2118.3V393.0H2120.9H2123.5V385.6H2126.0H2128.6V383.1H2131.2H2133.7V370.5H2136.3H2138.9V388.1H2141.5H2144.0V373.2H2146.6H2149.2V383.1H2151.8H2154.3V395.4H2156.9H2159.5V323.0H2162.0H2164.6V393.0H2167.2H2169.8V385.6H2172.3H2174.9V365.6H2177.5H2180.0V397.8H2182.6H2185.2V375.6H2187.8H2190.3V375.6H2192.9H2195.5V375.6H2198.0H2200.6V397.8H2203.2H2205.8V375.6H2208.3H2210.9V355.4H2213.5H2216.1V382.9H2218.6H2221.2V382.9H2223.8H2226.3V358.1H2228.9H2231.5V385.6H2234.1H2236.6V388.1H2239.2H2241.8V388.1H2244.3H2246.9V355.4H2249.5H2252.1V320.4H2254.6H2257.2V385.4H2259.8H2262.4V380.5H2264.9H2267.5V388.3H2270.1H2272.6V397.8H2275.2H2277.8V395.5H2280.4H2282.9V375.6H2285.5H2288.1V360.5H2290.6H2293.2V388.1H2295.8H2298.4V388.1H2300.9H2303.5V383.1H2306.1H2308.6V390.5H2311.2H2313.8V385.6H2316.4H2318.9V375.6H2321.5H2324.1V385.6H2326.7H2329.2V390.6H2331.8H2334.4V385.6H2336.9H2339.5V397.8H2342.1H2344.7V390.6H2347.2H2349.8V375.6H2352.4H2354.9V360.5H2357.5H2360.1V380.5H2362.7H2365.2V390.6H2367.8H2370.4V383.1H2373.0H2375.5V390.6H2378.1H2380.7V397.8H2383.2H2385.8V375.6H2388.4H2391.0V395.4H2393.5H2396.1V373.2H2398.7H2401.2V393.0H2403.8H2406.4V380.5H2409.0H2411.5V388.1H2414.1H2416.7V388.1H2419.2H2421.8V365.6H2424.4H2427.0V370.3H2429.5H2432.1V328.0H2434.7H2437.3V383.2H2439.8H2442.4V385.4H2445.0H2447.5V400.3H2450.1H2452.7V403.0H2455.3H2457.8V395.5H2460.4H2463.0V390.6H2465.5H2468.1V390.6H2470.7H2473.3V370.5H2475.8H2478.4V402.7H2481.0H2483.6V391.8H2486.1H2488.7V394.0H2491.3H2493.8V395.5H2496.4H2499.0V395.5H2501.6H2504.1V403.0H2506.7" fill="none" stroke="#9ba7f9" stroke-width="5" stroke-linejoin="miter"/><path d="M2508.7,378.2H2511.3V378.2H2513.8H2516.4V335.5H2519.0H2521.6V373.0H2524.1H2526.7V368.0H2529.3H2531.8V320.4H2534.4H2537.0V355.4H2539.6H2542.1V393.2H2544.7H2547.3V365.6H2549.9H2552.4V375.5H2555.0H2557.6V370.5H2560.1H2562.7V350.5H2565.3H2567.9V362.8H2570.4H2573.0V360.5H2575.6H2578.1V378.1H2580.7H2583.3V382.9H2585.9H2588.4V360.5H2591.0H2593.6V370.3H2596.2H2598.7V343.0H2601.3H2603.9V375.5H2606.4H2609.0V360.5H2611.6H2614.2V382.9H2616.7H2619.3V368.0H2621.9H2624.4V365.6H2627.0H2629.6V358.1H2632.2H2634.7V375.5H2637.3H2639.9V385.4H2642.4H2645.0V358.1H2647.6H2650.2V393.2H2652.7H2655.3V383.1H2657.9H2660.5V383.1H2663.0H2665.6V390.6H2668.2H2670.7V375.6H2673.3H2675.9V353.0H2678.5H2681.0V375.5H2683.6H2686.2V360.5H2688.7H2691.3V365.6H2693.9H2696.5V393.2H2699.0H2701.6V383.1H2704.2H2706.8V365.6H2709.3H2711.9V380.5H2714.5H2717.0V373.2H2719.6H2722.2V377.9H2724.8H2727.3V365.6H2729.9H2732.5V375.6H2735.0H2737.6V393.2H2740.2H2742.8V378.2H2745.3H2747.9V378.2H2750.5H2753.0V365.6H2755.6H2758.2V360.5H2760.8H2763.3V390.6H2765.9H2768.5V365.6H2771.1H2773.6V355.4H2776.2H2778.8V350.5H2781.3H2783.9V353.0H2786.5H2789.1V373.0H2791.6H2794.2V365.6H2796.8H2799.3V353.0H2801.9H2804.5V378.1H2807.1H2809.6V368.0H2812.2H2814.8V372.8H2817.4H2819.9V365.6H2822.5H2825.1V367.9H2827.6H2830.2V350.5H2832.8H2835.4V365.5H2837.9H2840.5V348.1H2843.1H2845.6V360.5H2848.2H2850.8V382.9H2853.4H2855.9V368.0H2858.5H2861.1V380.5H2863.6H2866.2V375.6H2868.8H2871.4V380.5H2873.9H2876.5V373.2H2879.1H2881.7V398.0H2884.2H2886.8V383.1H2889.4H2891.9V355.4H2894.5H2897.1V320.4H2899.7H2902.2V350.5H2904.8H2907.4V404.7H2909.9H2912.5V370.5H2915.1H2917.7V370.5H2920.2H2922.8V320.4H2925.4H2928.0V358.1H2930.5H2933.1V360.4H2935.7H2938.2V355.4H2940.8H2943.4V404.7H2946.0H2948.5V320.4H2951.1" fill="none" stroke="#9ba7f9" stroke-width="5" stroke-linejoin="miter"/><path d="M2953.1,380.5H2955.7V385.4H2958.3H2960.8V400.3H2963.4H2966.0V383.1H2968.6H2971.1V375.6H2973.7H2976.3V402.0H2978.9H2981.5V402.0H2984.0H2986.6V368.0H2989.2H2991.8V380.5H2994.3H2996.9V400.3H2999.5H3002.1V343.0H3004.7H3007.2V390.6H3009.8H3012.4V378.2H3015.0H3017.5V388.3H3020.1H3022.7V388.3H3025.3H3027.9V397.8H3030.4H3033.0V383.1H3035.6H3038.2V400.3H3040.7H3043.3V393.0H3045.9H3048.5V353.0H3051.1H3053.6V395.4H3056.2H3058.8V385.6H3061.4H3063.9V358.1H3066.5H3069.1V398.0H3071.7H3074.3V398.0H3076.8H3079.4V358.1H3082.0H3084.6V358.1H3087.2H3089.7V398.0H3092.3H3094.9V373.2H3097.5H3100.0V358.1H3102.6H3105.2V393.0H3107.8H3110.4V383.1H3112.9H3115.5V370.5H3118.1H3120.7V400.3H3123.2H3125.8V385.6H3128.4H3131.0V380.5H3133.6H3136.1V365.6H3138.7H3141.3V315.5H3143.9H3146.4V373.2H3149.0H3151.6V393.0H3154.2H3156.8V393.0H3159.3H3161.9V395.4H3164.5H3167.1V400.3H3169.6H3172.2V370.5H3174.8H3177.4V320.4H3180.0H3182.5V395.4H3185.1H3187.7V390.6H3190.3H3192.8V390.6H3195.4H3198.0V401.1H3200.6H3203.2V390.6H3205.7H3208.3V328.0H3210.9H3213.5V383.1H3216.0H3218.6V400.4H3221.2H3223.8V397.8H3226.4H3228.9V395.5H3231.5H3234.1V375.6H3236.7H3239.2V363.2H3241.8H3244.4V373.0H3247.0H3249.6V395.4H3252.1H3254.7V397.8H3257.3H3259.9V385.6H3262.4H3265.0V400.4H3267.6H3270.2V401.1H3272.8H3275.3V355.4H3277.9H3280.5V388.1H3283.1H3285.7V383.1H3288.2H3290.8V395.4H3293.4H3296.0V378.2H3298.5H3301.1V393.0H3303.7H3306.3V388.3H3308.9H3311.4V388.3H3314.0H3316.6V365.6H3319.2H3321.7V378.1H3324.3H3326.9V390.6H3329.5H3332.1V388.3H3334.6H3337.2V402.8H3339.8H3342.4V402.8H3344.9H3347.5V400.4H3350.1H3352.7V400.4H3355.3H3357.8V395.5H3360.4H3363.0V383.1H3365.6H3368.1V400.4H3370.7H3373.3V400.4H3375.9H3378.5V400.4H3381.0H3383.6V395.5H3386.2H3388.8V378.2H3391.3H3393.9V401.1H3396.5" fill="none" stroke="#9ba7f9" stroke-width="5" stroke-linejoin="miter" clip-path="url(#sd)"/></g></svg>
<div class="b" style="left:729.00px;top:440.00px;width:2670.00px;height:879.00px;background:#fff;border:2px solid #e2e2e2;border-radius:10px;box-sizing:border-box"></div>
<svg class="i" style="left:770.50px;top:497.50px" width="50.50" height="37.95" viewBox="215 205 1340 1007"><use href="#frog" fill="#444"/></svg>
<span class="t" style="left:835.79px;top:495.05px;font-size:44px;line-height:44px;color:#484848;font-weight:700;letter-spacing:0.171px;-webkit-text-stroke:0.9px #484848;">rybbit.com</span>
<span class="t" style="left:2035.30px;top:498.53px;font-size:36px;line-height:36px;color:#444;font-weight:400;letter-spacing:0.95px;">Users</span>
<div class="b" style="left:3105.00px;top:480.00px;width:254.50px;height:74.00px;background:#fff;border:3px solid #141414;border-radius:10px;box-sizing:border-box;box-shadow:inset 0 0 0 1.5px #dcdcdc"></div>
<span class="t" style="left:3138.40px;top:501.76px;font-size:31px;line-height:31px;color:#151515;font-weight:400;letter-spacing:0.097px;-webkit-text-stroke:0.45px #151515;">15 Minutes</span>
<svg class="i" style="left:3297.00px;top:503.70px;" width="26" height="26" viewBox="0 0 24 24" fill="none" stroke="#858585" stroke-width="2.4" stroke-linecap="round" stroke-linejoin="round"><path d="m6 9 6 6 6-6"/></svg>
<svg class="i" style="left:0;top:0" width="3456" height="1330" viewBox="0 0 3456 1330"><defs><linearGradient id="ag" x1="0" y1="0" x2="0" y2="1"><stop offset="0" stop-color="#8b97f7" stop-opacity="0.30"/><stop offset="1" stop-color="#8b97f7" stop-opacity="0.0"/></linearGradient></defs><line x1="974.2" x2="974.2" y1="577.9" y2="1201.5" stroke="#e6e6e6" stroke-width="2.5"/><line x1="1283.3" x2="1283.3" y1="577.9" y2="1201.5" stroke="#e6e6e6" stroke-width="2.5"/><line x1="1592.3" x2="1592.3" y1="577.9" y2="1201.5" stroke="#e6e6e6" stroke-width="2.5"/><line x1="1901.4" x2="1901.4" y1="577.9" y2="1201.5" stroke="#e6e6e6" stroke-width="2.5"/><line x1="2210.5" x2="2210.5" y1="577.9" y2="1201.5" stroke="#e6e6e6" stroke-width="2.5"/><line x1="2519.5" x2="2519.5" y1="577.9" y2="1201.5" stroke="#e6e6e6" stroke-width="2.5"/><line x1="2828.6" x2="2828.6" y1="577.9" y2="1201.5" stroke="#e6e6e6" stroke-width="2.5"/><line x1="3137.6" x2="3137.6" y1="577.9" y2="1201.5" stroke="#e6e6e6" stroke-width="2.5"/><line x1="871.2" x2="3317.9" y1="1201.5" y2="1201.5" stroke="#e6e6e6" stroke-width="2.5"/><line x1="859.2" x2="871.2" y1="1201.5" y2="1201.5" stroke="#777" stroke-width="2"/><line x1="871.2" x2="3317.9" y1="1090.2" y2="1090.2" stroke="#e6e6e6" stroke-width="2.5"/><line x1="859.2" x2="871.2" y1="1090.2" y2="1090.2" stroke="#777" stroke-width="2"/><line x1="871.2" x2="3317.9" y1="978.8" y2="978.8" stroke="#e6e6e6" stroke-width="2.5"/><line x1="859.2" x2="871.2" y1="978.8" y2="978.8" stroke="#777" stroke-width="2"/><line x1="871.2" x2="3317.9" y1="867.5" y2="867.5" stroke="#e6e6e6" stroke-width="2.5"/><line x1="859.2" x2="871.2" y1="867.5" y2="867.5" stroke="#777" stroke-width="2"/><line x1="871.2" x2="3317.9" y1="756.1" y2="756.1" stroke="#e6e6e6" stroke-width="2.5"/><line x1="859.2" x2="871.2" y1="756.1" y2="756.1" stroke="#777" stroke-width="2"/><line x1="871.2" x2="3317.9" y1="644.8" y2="644.8" stroke="#e6e6e6" stroke-width="2.5"/><line x1="859.2" x2="871.2" y1="644.8" y2="644.8" stroke="#777" stroke-width="2"/><line x1="871.2" x2="871.2" y1="1201.5" y2="1214.5" stroke="#6f6f6f" stroke-width="2.5"/><line x1="974.2" x2="974.2" y1="1201.5" y2="1214.5" stroke="#6f6f6f" stroke-width="2.5"/><line x1="1077.2" x2="1077.2" y1="1201.5" y2="1214.5" stroke="#6f6f6f" stroke-width="2.5"/><line x1="1180.3" x2="1180.3" y1="1201.5" y2="1214.5" stroke="#6f6f6f" stroke-width="2.5"/><line x1="1283.3" x2="1283.3" y1="1201.5" y2="1214.5" stroke="#6f6f6f" stroke-width="2.5"/><line x1="1386.3" x2="1386.3" y1="1201.5" y2="1214.5" stroke="#6f6f6f" stroke-width="2.5"/><line x1="1489.3" x2="1489.3" y1="1201.5" y2="1214.5" stroke="#6f6f6f" stroke-width="2.5"/><line x1="1592.3" x2="1592.3" y1="1201.5" y2="1214.5" stroke="#6f6f6f" stroke-width="2.5"/><line x1="1695.4" x2="1695.4" y1="1201.5" y2="1214.5" stroke="#6f6f6f" stroke-width="2.5"/><line x1="1798.4" x2="1798.4" y1="1201.5" y2="1214.5" stroke="#6f6f6f" stroke-width="2.5"/><line x1="1901.4" x2="1901.4" y1="1201.5" y2="1214.5" stroke="#6f6f6f" stroke-width="2.5"/><line x1="2004.4" x2="2004.4" y1="1201.5" y2="1214.5" stroke="#6f6f6f" stroke-width="2.5"/><line x1="2107.4" x2="2107.4" y1="1201.5" y2="1214.5" stroke="#6f6f6f" stroke-width="2.5"/><line x1="2210.5" x2="2210.5" y1="1201.5" y2="1214.5" stroke="#6f6f6f" stroke-width="2.5"/><line x1="2313.5" x2="2313.5" y1="1201.5" y2="1214.5" stroke="#6f6f6f" stroke-width="2.5"/><line x1="2416.5" x2="2416.5" y1="1201.5" y2="1214.5" stroke="#6f6f6f" stroke-width="2.5"/><line x1="2519.5" x2="2519.5" y1="1201.5" y2="1214.5" stroke="#6f6f6f" stroke-width="2.5"/><line x1="2622.5" x2="2622.5" y1="1201.5" y2="1214.5" stroke="#6f6f6f" stroke-width="2.5"/><line x1="2725.6" x2="2725.6" y1="1201.5" y2="1214.5" stroke="#6f6f6f" stroke-width="2.5"/><line x1="2828.6" x2="2828.6" y1="1201.5" y2="1214.5" stroke="#6f6f6f" stroke-width="2.5"/><line x1="2931.6" x2="2931.6" y1="1201.5" y2="1214.5" stroke="#6f6f6f" stroke-width="2.5"/><line x1="3034.6" x2="3034.6" y1="1201.5" y2="1214.5" stroke="#6f6f6f" stroke-width="2.5"/><line x1="3137.6" x2="3137.6" y1="1201.5" y2="1214.5" stroke="#6f6f6f" stroke-width="2.5"/><line x1="3240.7" x2="3240.7" y1="1201.5" y2="1214.5" stroke="#6f6f6f" stroke-width="2.5"/><polyline points="871.2,1134.7 897.0,1001.1 922.7,1134.7 948.5,1001.1 974.2,1023.3 1000.0,822.9 1025.7,1090.2 1051.5,1067.9 1077.2,978.8 1103.0,1023.3 1128.8,867.5 1154.5,912.0 1180.3,956.5 1206.0,956.5 1231.8,867.5 1257.5,756.1 1283.3,756.1 1309.0,978.8 1334.8,889.7 1360.5,1023.3 1386.3,845.2 1412.1,978.8 1437.8,689.3 1463.6,889.7 1489.3,956.5 1515.1,1001.1 1540.8,912.0 1566.6,800.6 1592.3,934.3 1618.1,934.3 1643.8,733.8 1669.6,577.9 1695.4,756.1 1721.1,800.6 1746.9,733.8 1772.6,756.1 1798.4,822.9 1824.1,845.2 1849.9,845.2 1875.6,867.5 1901.4,867.5 1927.2,756.1 1952.9,845.2 1978.7,800.6 2004.4,867.5 2030.2,822.9 2055.9,889.7 2081.7,889.7 2107.4,822.9 2133.2,912.0 2158.9,867.5 2184.7,889.7 2210.5,912.0 2236.2,912.0 2262.0,800.6 2287.7,889.7 2313.5,867.5 2339.2,1001.1 2365.0,956.5 2390.7,1045.6 2416.5,956.5 2442.3,822.9 2468.0,800.6 2493.8,978.8 2519.5,934.3 2545.3,978.8 2571.0,956.5 2596.8,889.7 2622.5,978.8 2648.3,956.5 2674.1,889.7 2699.8,889.7 2725.6,889.7 2751.3,1023.3 2777.1,1045.6 2802.8,1067.9 2828.6,1090.2 2854.3,1001.1 2880.1,1023.3 2905.8,1023.3 2931.6,934.3 2957.4,1045.6 2983.1,1067.9 3008.9,978.8 3034.6,934.3 3060.4,1067.9 3086.1,978.8 3111.9,912.0 3137.6,1045.6 3163.4,1001.1 3189.1,912.0 3214.9,867.5 3240.7,1045.6 3266.4,1067.9 3292.2,867.5 3317.9,756.1" fill="none" stroke="#e4e4e4" stroke-width="5" stroke-linejoin="miter"/><polygon points="871.2,1201.5 871.2,1001.1 897.0,1045.6 922.7,1023.3 948.5,1067.9 974.2,845.2 1000.0,1112.4 1025.7,956.5 1051.5,956.5 1077.2,1001.1 1103.0,912.0 1128.8,978.8 1154.5,1023.3 1180.3,667.0 1206.0,845.2 1231.8,845.2 1257.5,934.3 1283.3,845.2 1309.0,934.3 1334.8,956.5 1360.5,934.3 1386.3,845.2 1412.1,800.6 1437.8,800.6 1463.6,822.9 1489.3,800.6 1515.1,889.7 1540.8,800.6 1566.6,800.6 1592.3,845.2 1618.1,912.0 1643.8,822.9 1669.6,889.7 1695.4,889.7 1721.1,822.9 1746.9,867.5 1772.6,822.9 1798.4,978.8 1824.1,867.5 1849.9,889.7 1875.6,845.2 1901.4,644.8 1927.2,800.6 1952.9,1023.3 1978.7,912.0 2004.4,912.0 2030.2,800.6 2055.9,978.8 2081.7,845.2 2107.4,889.7 2133.2,822.9 2158.9,867.5 2184.7,1001.1 2210.5,800.6 2236.2,889.7 2262.0,956.5 2287.7,912.0 2313.5,867.5 2339.2,822.9 2365.0,912.0 2390.7,822.9 2416.5,912.0 2442.3,1001.1 2468.0,912.0 2493.8,822.9 2519.5,778.4 2545.3,934.3 2571.0,912.0 2596.8,889.7 2622.5,800.6 2648.3,822.9 2674.1,956.5 2699.8,778.4 2725.6,912.0 2751.3,956.5 2777.1,889.7 2802.8,1001.1 2828.6,1157.0 2854.3,1045.6 2880.1,1157.0 2905.8,867.5 2931.6,1001.1 2957.4,1134.7 2983.1,867.5 3008.9,978.8 3034.6,978.8 3060.4,1112.4 3086.1,1179.2 3086.1,1201.5" fill="url(#ag)"/><polyline points="871.2,1001.1 897.0,1045.6 922.7,1023.3 948.5,1067.9 974.2,845.2 1000.0,1112.4 1025.7,956.5 1051.5,956.5 1077.2,1001.1 1103.0,912.0 1128.8,978.8 1154.5,1023.3 1180.3,667.0 1206.0,845.2 1231.8,845.2 1257.5,934.3 1283.3,845.2 1309.0,934.3 1334.8,956.5 1360.5,934.3 1386.3,845.2 1412.1,800.6 1437.8,800.6 1463.6,822.9 1489.3,800.6 1515.1,889.7 1540.8,800.6 1566.6,800.6 1592.3,845.2 1618.1,912.0 1643.8,822.9 1669.6,889.7 1695.4,889.7 1721.1,822.9 1746.9,867.5 1772.6,822.9 1798.4,978.8 1824.1,867.5 1849.9,889.7 1875.6,845.2 1901.4,644.8 1927.2,800.6 1952.9,1023.3 1978.7,912.0 2004.4,912.0 2030.2,800.6 2055.9,978.8 2081.7,845.2 2107.4,889.7 2133.2,822.9 2158.9,867.5 2184.7,1001.1 2210.5,800.6 2236.2,889.7 2262.0,956.5 2287.7,912.0 2313.5,867.5 2339.2,822.9 2365.0,912.0 2390.7,822.9 2416.5,912.0 2442.3,1001.1 2468.0,912.0 2493.8,822.9 2519.5,778.4 2545.3,934.3 2571.0,912.0 2596.8,889.7 2622.5,800.6 2648.3,822.9 2674.1,956.5 2699.8,778.4 2725.6,912.0 2751.3,956.5 2777.1,889.7 2802.8,1001.1 2828.6,1157.0 2854.3,1045.6 2880.1,1157.0 2905.8,867.5 2931.6,1001.1 2957.4,1134.7 2983.1,867.5 3008.9,978.8 3034.6,978.8 3060.4,1112.4" fill="none" stroke="#9aa6f8" stroke-width="5" stroke-linejoin="miter"/><line x1="3060.4" y1="1112.4" x2="3086.1" y2="1179.2" stroke="#9aa6f8" stroke-width="5" stroke-dasharray="7.5 7.5"/></svg>
<span class="t" style="right:2622.50px;top:1188.72px;font-size:27.5px;line-height:27.5px;color:#7c7c7c;font-weight:400;-webkit-text-stroke:0.3px #7c7c7c;">0</span>
<span class="t" style="right:2622.50px;top:1077.37px;font-size:27.5px;line-height:27.5px;color:#7c7c7c;font-weight:400;-webkit-text-stroke:0.3px #7c7c7c;">5</span>
<span class="t" style="right:2622.50px;top:966.02px;font-size:27.5px;line-height:27.5px;color:#7c7c7c;font-weight:400;-webkit-text-stroke:0.3px #7c7c7c;">10</span>
<span class="t" style="right:2622.50px;top:854.67px;font-size:27.5px;line-height:27.5px;color:#7c7c7c;font-weight:400;-webkit-text-stroke:0.3px #7c7c7c;">15</span>
<span class="t" style="right:2622.50px;top:743.32px;font-size:27.5px;line-height:27.5px;color:#7c7c7c;font-weight:400;-webkit-text-stroke:0.3px #7c7c7c;">20</span>
<span class="t" style="right:2622.50px;top:631.97px;font-size:27.5px;line-height:27.5px;color:#7c7c7c;font-weight:400;-webkit-text-stroke:0.3px #7c7c7c;">25</span>
<span class="t" style="left:871.20px;transform:translateX(-50%);top:1241.52px;font-size:27.5px;line-height:27.5px;color:#7c7c7c;font-weight:400;-webkit-text-stroke:0.3px #7c7c7c;">12AM</span>
<span class="t" style="left:974.22px;transform:translateX(-50%);top:1241.52px;font-size:27.5px;line-height:27.5px;color:#7c7c7c;font-weight:400;-webkit-text-stroke:0.3px #7c7c7c;">1AM</span>
<span class="t" style="left:1077.24px;transform:translateX(-50%);top:1241.52px;font-size:27.5px;line-height:27.5px;color:#7c7c7c;font-weight:400;-webkit-text-stroke:0.3px #7c7c7c;">2AM</span>
<span class="t" style="left:1180.26px;transform:translateX(-50%);top:1241.52px;font-size:27.5px;line-height:27.5px;color:#7c7c7c;font-weight:400;-webkit-text-stroke:0.3px #7c7c7c;">3AM</span>
<span class="t" style="left:1283.28px;transform:translateX(-50%);top:1241.52px;font-size:27.5px;line-height:27.5px;color:#7c7c7c;font-weight:400;-webkit-text-stroke:0.3px #7c7c7c;">4AM</span>
<span class="t" style="left:1386.30px;transform:translateX(-50%);top:1241.52px;font-size:27.5px;line-height:27.5px;color:#7c7c7c;font-weight:400;-webkit-text-stroke:0.3px #7c7c7c;">5AM</span>
<span class="t" style="left:1489.32px;transform:translateX(-50%);top:1241.52px;font-size:27.5px;line-height:27.5px;color:#7c7c7c;font-weight:400;-webkit-text-stroke:0.3px #7c7c7c;">6AM</span>
<span class="t" style="left:1592.34px;transform:translateX(-50%);top:1241.52px;font-size:27.5px;line-height:27.5px;color:#7c7c7c;font-weight:400;-webkit-text-stroke:0.3px #7c7c7c;">7AM</span>
<span class="t" style="left:1695.36px;transform:translateX(-50%);top:1241.52px;font-size:27.5px;line-height:27.5px;color:#7c7c7c;font-weight:400;-webkit-text-stroke:0.3px #7c7c7c;">8AM</span>
<span class="t" style="left:1798.38px;transform:translateX(-50%);top:1241.52px;font-size:27.5px;line-height:27.5px;color:#7c7c7c;font-weight:400;-webkit-text-stroke:0.3px #7c7c7c;">9AM</span>
<span class="t" style="left:1901.40px;transform:translateX(-50%);top:1241.52px;font-size:27.5px;line-height:27.5px;color:#7c7c7c;font-weight:400;-webkit-text-stroke:0.3px #7c7c7c;">10AM</span>
<span class="t" style="left:2004.42px;transform:translateX(-50%);top:1241.52px;font-size:27.5px;line-height:27.5px;color:#7c7c7c;font-weight:400;-webkit-text-stroke:0.3px #7c7c7c;">11AM</span>
<span class="t" style="left:2107.44px;transform:translateX(-50%);top:1241.52px;font-size:27.5px;line-height:27.5px;color:#7c7c7c;font-weight:400;-webkit-text-stroke:0.3px #7c7c7c;">12PM</span>
<span class="t" style="left:2210.46px;transform:translateX(-50%);top:1241.52px;font-size:27.5px;line-height:27.5px;color:#7c7c7c;font-weight:400;-webkit-text-stroke:0.3px #7c7c7c;">1PM</span>
<span class="t" style="left:2313.48px;transform:translateX(-50%);top:1241.52px;font-size:27.5px;line-height:27.5px;color:#7c7c7c;font-weight:400;-webkit-text-stroke:0.3px #7c7c7c;">2PM</span>
<span class="t" style="left:2416.50px;transform:translateX(-50%);top:1241.52px;font-size:27.5px;line-height:27.5px;color:#7c7c7c;font-weight:400;-webkit-text-stroke:0.3px #7c7c7c;">3PM</span>
<span class="t" style="left:2519.52px;transform:translateX(-50%);top:1241.52px;font-size:27.5px;line-height:27.5px;color:#7c7c7c;font-weight:400;-webkit-text-stroke:0.3px #7c7c7c;">4PM</span>
<span class="t" style="left:2622.54px;transform:translateX(-50%);top:1241.52px;font-size:27.5px;line-height:27.5px;color:#7c7c7c;font-weight:400;-webkit-text-stroke:0.3px #7c7c7c;">5PM</span>
<span class="t" style="left:2725.56px;transform:translateX(-50%);top:1241.52px;font-size:27.5px;line-height:27.5px;color:#7c7c7c;font-weight:400;-webkit-text-stroke:0.3px #7c7c7c;">6PM</span>
<span class="t" style="left:2828.58px;transform:translateX(-50%);top:1241.52px;font-size:27.5px;line-height:27.5px;color:#7c7c7c;font-weight:400;-webkit-text-stroke:0.3px #7c7c7c;">7PM</span>
<span class="t" style="left:2931.60px;transform:translateX(-50%);top:1241.52px;font-size:27.5px;line-height:27.5px;color:#7c7c7c;font-weight:400;-webkit-text-stroke:0.3px #7c7c7c;">8PM</span>
<span class="t" style="left:3034.62px;transform:translateX(-50%);top:1241.52px;font-size:27.5px;line-height:27.5px;color:#7c7c7c;font-weight:400;-webkit-text-stroke:0.3px #7c7c7c;">9PM</span>
<span class="t" style="left:3137.64px;transform:translateX(-50%);top:1241.52px;font-size:27.5px;line-height:27.5px;color:#7c7c7c;font-weight:400;-webkit-text-stroke:0.3px #7c7c7c;">10PM</span>
<span class="t" style="left:3240.66px;transform:translateX(-50%);top:1241.52px;font-size:27.5px;line-height:27.5px;color:#7c7c7c;font-weight:400;-webkit-text-stroke:0.3px #7c7c7c;">11PM</span>
<div class="b" style="left:729.00px;top:1349.00px;width:1320.00px;height:700.00px;background:#fff;border:2px solid #e2e2e2;border-radius:10px;box-sizing:border-box"></div>
<span class="t" style="left:770.17px;top:1391.53px;font-size:36px;line-height:36px;color:#111;font-weight:400;letter-spacing:0.765px;-webkit-text-stroke:0.9px #111;">Referrers</span>
<span class="t" style="left:956.65px;top:1391.53px;font-size:36px;line-height:36px;color:#6e6e6e;font-weight:400;letter-spacing:0.623px;-webkit-text-stroke:0.7px #6e6e6e;">Channels</span>
<span class="t" style="left:1143.93px;top:1391.53px;font-size:36px;line-height:36px;color:#6e6e6e;font-weight:400;letter-spacing:0.78px;-webkit-text-stroke:0.7px #6e6e6e;">Source</span>
<span class="t" style="left:1290.97px;top:1391.53px;font-size:36px;line-height:36px;color:#6e6e6e;font-weight:400;letter-spacing:1.672px;-webkit-text-stroke:0.7px #6e6e6e;">Medium</span>
<span class="t" style="left:1457.05px;top:1391.53px;font-size:36px;line-height:36px;color:#6e6e6e;font-weight:400;letter-spacing:1.009px;-webkit-text-stroke:0.7px #6e6e6e;">Campaign</span>
<span class="t" style="left:1658.73px;top:1391.53px;font-size:36px;line-height:36px;color:#6e6e6e;font-weight:400;letter-spacing:1.52px;-webkit-text-stroke:0.7px #6e6e6e;">Term</span>
<span class="t" style="left:1773.55px;top:1391.53px;font-size:36px;line-height:36px;color:#6e6e6e;font-weight:400;letter-spacing:0.763px;-webkit-text-stroke:0.7px #6e6e6e;">Content</span>
<div class="b" style="left:1937.00px;top:1376.50px;width:70.00px;height:69.50px;background:#fff;border:2px solid #dedede;border-radius:9px;box-sizing:border-box"></div>
<svg class="i" style="left:1951.70px;top:1390.50px;" width="41" height="41" viewBox="0 0 24 24" fill="none" stroke="#1c1c1c" stroke-width="2.1" stroke-linecap="round" stroke-linejoin="round"><path d="m15 15 6 6"/><path d="m15 9 6-6"/><path d="M21 16v5h-5"/><path d="M21 8V3h-5"/><path d="M3 16v5h5"/><path d="m3 21 6-6"/><path d="M3 8V3h5"/><path d="M9 9 3 3"/></svg>
<span class="t" style="left:769.82px;top:1475.76px;font-size:31px;line-height:31px;color:#737373;font-weight:400;letter-spacing:0.412px;">Referrers</span>
<span class="t" style="right:1458.31px;top:1475.76px;font-size:31px;line-height:31px;color:#737373;font-weight:400;letter-spacing:0.274px;">Sessions</span>
<div class="b" style="left:771.00px;top:1531.00px;width:1236.00px;height:59.50px;background:#e6e9fc;border-radius:8px"></div>
<svg class="i" style="left:791px;top:1541px" width="40" height="40" viewBox="0 0 48 48"><circle cx="24" cy="24" r="24" fill="#fff"/><g transform="translate(5.6 5.6) scale(0.767)"><path fill="#EA4335" d="M24 9.5c3.54 0 6.71 1.22 9.21 3.6l6.85-6.85C35.9 2.38 30.47 0 24 0 14.62 0 6.51 5.38 2.56 13.22l7.98 6.19C12.43 13.72 17.74 9.5 24 9.5z"/><path fill="#4285F4" d="M46.98 24.55c0-1.57-.15-3.09-.38-4.55H24v9.02h12.94c-.58 2.96-2.26 5.48-4.78 7.18l7.73 6c4.51-4.18 7.09-10.36 7.09-17.65z"/><path fill="#FBBC05" d="M10.53 28.59c-.48-1.45-.76-2.99-.76-4.59s.27-3.14.76-4.59l-7.98-6.19C.92 16.46 0 20.12 0 24c0 3.88.92 7.54 2.56 10.78l7.97-6.19z"/><path fill="#34A853" d="M24 48c6.48 0 11.93-2.13 15.89-5.81l-7.73-6c-2.15 1.45-4.92 2.3-8.16 2.3-6.26 0-11.57-4.22-13.47-9.91l-7.98 6.19C6.51 42.62 14.62 48 24 48z"/></g></svg>
<span class="t" style="left:851.35px;top:1544.71px;font-size:32px;line-height:32px;color:#1b1b1b;font-weight:400;letter-spacing:0.086px;-webkit-text-stroke:0.25px #1b1b1b;">google.com</span>
<svg class="i" style="left:1031.80px;top:1542.40px;" width="37.5" height="37.5" viewBox="0 0 24 24" fill="none" stroke="#686868" stroke-width="2.45" stroke-linecap="round" stroke-linejoin="round"><path d="M21 13v6a2 2 0 0 1-2 2H5a2 2 0 0 1-2-2V5a2 2 0 0 1 2-2h6"/><path d="m21 3-9 9"/><path d="M15 3h6v6"/></svg>
<span class="t" style="right:1468.82px;top:1545.14px;font-size:31.5px;line-height:31.5px;color:#1f1f1f;font-weight:400;-webkit-text-stroke:0.2px #1f1f1f;transform:scaleX(1.0911);transform-origin:100% 0;">80</span>
<div class="b" style="left:771.00px;top:1611.00px;width:509.85px;height:59.50px;background:#e6e9fc;border-radius:8px"></div>
<svg class="i" style="left:791px;top:1621px" width="40" height="40" viewBox="0 0 48 48"><circle cx="24" cy="24" r="24" fill="#fff"/><g transform="translate(5.6 5.6) scale(0.767)"><path fill="#EA4335" d="M24 9.5c3.54 0 6.71 1.22 9.21 3.6l6.85-6.85C35.9 2.38 30.47 0 24 0 14.62 0 6.51 5.38 2.56 13.22l7.98 6.19C12.43 13.72 17.74 9.5 24 9.5z"/><path fill="#4285F4" d="M46.98 24.55c0-1.57-.15-3.09-.38-4.55H24v9.02h12.94c-.58 2.96-2.26 5.48-4.78 7.18l7.73 6c4.51-4.18 7.09-10.36 7.09-17.65z"/><path fill="#FBBC05" d="M10.53 28.59c-.48-1.45-.76-2.99-.76-4.59s.27-3.14.76-4.59l-7.98-6.19C.92 16.46 0 20.12 0 24c0 3.88.92 7.54 2.56 10.78l7.97-6.19z"/><path fill="#34A853" d="M24 48c6.48 0 11.93-2.13 15.89-5.81l-7.73-6c-2.15 1.45-4.92 2.3-8.16 2.3-6.26 0-11.57-4.22-13.47-9.91l-7.98 6.19C6.51 42.62 14.62 48 24 48z"/></g></svg>
<span class="t" style="left:851.35px;top:1624.71px;font-size:32px;line-height:32px;color:#1b1b1b;font-weight:400;letter-spacing:0.106px;-webkit-text-stroke:0.25px #1b1b1b;">accounts.google.com</span>
<svg class="i" style="left:1169.90px;top:1622.40px;" width="37.5" height="37.5" viewBox="0 0 24 24" fill="none" stroke="#686868" stroke-width="2.45" stroke-linecap="round" stroke-linejoin="round"><path d="M21 13v6a2 2 0 0 1-2 2H5a2 2 0 0 1-2-2V5a2 2 0 0 1 2-2h6"/><path d="m21 3-9 9"/><path d="M15 3h6v6"/></svg>
<span class="t" style="right:1468.66px;top:1625.14px;font-size:31.5px;line-height:31.5px;color:#1f1f1f;font-weight:400;-webkit-text-stroke:0.2px #1f1f1f;transform:scaleX(1.0787);transform-origin:100% 0;">33</span>
<div class="b" style="left:771.00px;top:1691.00px;width:478.95px;height:59.50px;background:#e6e9fc;border-radius:8px"></div>
<svg class="i" style="left:791px;top:1701px" width="40" height="40" viewBox="0 0 24 24"><circle cx="12" cy="12" r="11.6" fill="#fff"/><path fill="#1b1f23" d="M12 .297c-6.63 0-12 5.373-12 12 0 5.303 3.438 9.8 8.205 11.385.6.113.82-.258.82-.577 0-.285-.01-1.04-.015-2.04-3.338.724-4.042-1.61-4.042-1.61C4.422 18.07 3.633 17.7 3.633 17.7c-1.087-.744.084-.729.084-.729 1.205.084 1.838 1.236 1.838 1.236 1.07 1.835 2.809 1.305 3.495.998.108-.776.417-1.305.76-1.605-2.665-.3-5.466-1.332-5.466-5.93 0-1.31.465-2.38 1.235-3.22-.135-.303-.54-1.523.105-3.176 0 0 1.005-.322 3.3 1.23.96-.267 1.98-.399 3-.405 1.02.006 2.04.138 3 .405 2.28-1.552 3.285-1.23 3.285-1.23.645 1.653.24 2.873.12 3.176.765.84 1.23 1.91 1.23 3.22 0 4.61-2.805 5.625-5.475 5.92.42.36.81 1.096.81 2.22 0 1.606-.015 2.896-.015 3.286 0 .315.21.69.825.57C20.565 22.092 24 17.592 24 12.297c0-6.627-5.373-12-12-12"/></svg>
<span class="t" style="left:851.35px;top:1704.71px;font-size:32px;line-height:32px;color:#1b1b1b;font-weight:400;letter-spacing:0.174px;-webkit-text-stroke:0.25px #1b1b1b;">github.com</span>
<svg class="i" style="left:1023.80px;top:1702.40px;" width="37.5" height="37.5" viewBox="0 0 24 24" fill="none" stroke="#686868" stroke-width="2.45" stroke-linecap="round" stroke-linejoin="round"><path d="M21 13v6a2 2 0 0 1-2 2H5a2 2 0 0 1-2-2V5a2 2 0 0 1 2-2h6"/><path d="m21 3-9 9"/><path d="M15 3h6v6"/></svg>
<span class="t" style="right:1468.79px;top:1705.14px;font-size:31.5px;line-height:31.5px;color:#1f1f1f;font-weight:400;-webkit-text-stroke:0.2px #1f1f1f;transform:scaleX(0.8796);transform-origin:100% 0;">31</span>
<div class="b" style="left:771.00px;top:1771.00px;width:386.25px;height:59.50px;background:#e6e9fc;border-radius:8px"></div>
<div class="b" style="left:791px;top:1781px;width:40px;height:40px;background:#000"></div><svg class="i" style="left:793px;top:1787px" width="36.5" height="27.43" viewBox="215 205 1340 1007"><use href="#frog" fill="#fff"/></svg>
<span class="t" style="left:850.54px;top:1784.71px;font-size:32px;line-height:32px;color:#1b1b1b;font-weight:400;letter-spacing:0.47px;-webkit-text-stroke:0.25px #1b1b1b;">rybbit.com</span>
<svg class="i" style="left:1016.70px;top:1782.40px;" width="37.5" height="37.5" viewBox="0 0 24 24" fill="none" stroke="#686868" stroke-width="2.45" stroke-linecap="round" stroke-linejoin="round"><path d="M21 13v6a2 2 0 0 1-2 2H5a2 2 0 0 1-2-2V5a2 2 0 0 1 2-2h6"/><path d="m21 3-9 9"/><path d="M15 3h6v6"/></svg>
<span class="t" style="right:1468.65px;top:1785.14px;font-size:31.5px;line-height:31.5px;color:#1f1f1f;font-weight:400;-webkit-text-stroke:0.2px #1f1f1f;transform:scaleX(1.0893);transform-origin:100% 0;">25</span>
<div class="b" style="left:771.00px;top:1851.00px;width:169.95px;height:59.50px;background:#e6e9fc;border-radius:8px"></div>
<svg class="i" style="left:791px;top:1861px" width="40" height="40" viewBox="0 0 40 40"><circle cx="20" cy="20" r="20" fill="#e0633d"/><circle cx="20" cy="20" r="16.6" fill="#e0633d" stroke="#fff" stroke-width="1.9"/><path d="M13.5 33 C10.5 25 10 15 14 10.5 C17 7.5 22.5 8 25 11.5 C27 14.5 26.2 19 25 22.5 L27.5 33 C23 36 18 36 13.5 33 Z" fill="#fff"/><path d="M22.5 19.5 c3.5-1.6 7.5-1.8 10-0.6 c-1.2 2.2-5 3.2-10 3.4z" fill="#fdd20a"/><path d="M18 27.5 c2.5 1.2 5 1.2 7.5-0.6 l1.2 3.6 c-2.5 1.8-6.2 1.8-8.7 0z" fill="#5fba47"/><circle cx="19.8" cy="14.2" r="1.4" fill="#2d4f8e"/></svg>
<span class="t" style="left:851.35px;top:1864.71px;font-size:32px;line-height:32px;color:#1b1b1b;font-weight:400;letter-spacing:0.204px;-webkit-text-stroke:0.25px #1b1b1b;">duckduckgo.com</span>
<svg class="i" style="left:1108.40px;top:1862.40px;" width="37.5" height="37.5" viewBox="0 0 24 24" fill="none" stroke="#686868" stroke-width="2.45" stroke-linecap="round" stroke-linejoin="round"><path d="M21 13v6a2 2 0 0 1-2 2H5a2 2 0 0 1-2-2V5a2 2 0 0 1 2-2h6"/><path d="m21 3-9 9"/><path d="M15 3h6v6"/></svg>
<span class="t" style="right:1468.86px;top:1865.14px;font-size:31.5px;line-height:31.5px;color:#1f1f1f;font-weight:400;-webkit-text-stroke:0.2px #1f1f1f;transform:scaleX(0.8153);transform-origin:100% 0;">11</span>
<div class="b" style="left:771.00px;top:1931.00px;width:154.50px;height:59.50px;background:#e6e9fc;border-radius:8px"></div>
<svg class="i" style="left:791px;top:1941px" width="40" height="40" viewBox="0 0 40 40"><circle cx="20" cy="20" r="20" fill="#ec6958"/><path fill="#fff" d="M13.2 8.8h9.6a7 7 0 0 1 0 14h-4.6v8h-5zM18.2 13.6v4.6h4.4a2.3 2.3 0 0 0 0-4.6z"/></svg>
<span class="t" style="left:850.54px;top:1944.71px;font-size:32px;line-height:32px;color:#1b1b1b;font-weight:400;letter-spacing:0.294px;-webkit-text-stroke:0.25px #1b1b1b;">producthunt.com</span>
<svg class="i" style="left:1107.30px;top:1942.40px;" width="37.5" height="37.5" viewBox="0 0 24 24" fill="none" stroke="#686868" stroke-width="2.45" stroke-linecap="round" stroke-linejoin="round"><path d="M21 13v6a2 2 0 0 1-2 2H5a2 2 0 0 1-2-2V5a2 2 0 0 1 2-2h6"/><path d="m21 3-9 9"/><path d="M15 3h6v6"/></svg>
<span class="t" style="right:1468.98px;top:1945.14px;font-size:31.5px;line-height:31.5px;color:#1f1f1f;font-weight:400;-webkit-text-stroke:0.2px #1f1f1f;transform:scaleX(0.9524);transform-origin:100% 0;">10</span>
<div class="b" style="left:771.00px;top:1444.00px;width:156.00px;height:5.00px;background:#111"></div>
<div class="b" style="left:2078.50px;top:1349.00px;width:1320.50px;height:700.00px;background:#fff;border:2px solid #e2e2e2;border-radius:10px;box-sizing:border-box"></div>
<span class="t" style="left:2119.97px;top:1391.53px;font-size:36px;line-height:36px;color:#111;font-weight:400;letter-spacing:0.595px;-webkit-text-stroke:0.9px #111;">Pages</span>
<span class="t" style="left:2253.57px;top:1391.53px;font-size:36px;line-height:36px;color:#6e6e6e;font-weight:400;letter-spacing:0.862px;-webkit-text-stroke:0.7px #6e6e6e;">Page Titles</span>
<span class="t" style="left:2468.77px;top:1391.53px;font-size:36px;line-height:36px;color:#6e6e6e;font-weight:400;letter-spacing:0.652px;-webkit-text-stroke:0.7px #6e6e6e;">Entry Pages</span>
<span class="t" style="left:2699.87px;top:1391.53px;font-size:36px;line-height:36px;color:#6e6e6e;font-weight:400;letter-spacing:0.329px;-webkit-text-stroke:0.7px #6e6e6e;">Exit Pages</span>
<span class="t" style="left:2904.07px;top:1391.53px;font-size:36px;line-height:36px;color:#6e6e6e;font-weight:400;letter-spacing:1.035px;-webkit-text-stroke:0.7px #6e6e6e;">Hostnames</span>
<div class="b" style="left:3287.00px;top:1376.50px;width:70.00px;height:69.50px;background:#fff;border:2px solid #dedede;border-radius:9px;box-sizing:border-box"></div>
<svg class="i" style="left:3301.70px;top:1390.50px;" width="41" height="41" viewBox="0 0 24 24" fill="none" stroke="#1c1c1c" stroke-width="2.1" stroke-linecap="round" stroke-linejoin="round"><path d="m15 15 6 6"/><path d="m15 9 6-6"/><path d="M21 16v5h-5"/><path d="M21 8V3h-5"/><path d="M3 16v5h5"/><path d="m3 21 6-6"/><path d="M3 8V3h5"/><path d="M9 9 3 3"/></svg>
<span class="t" style="left:2119.82px;top:1475.76px;font-size:31px;line-height:31px;color:#737373;font-weight:400;letter-spacing:0.295px;">Pages</span>
<span class="t" style="right:108.31px;top:1475.76px;font-size:31px;line-height:31px;color:#737373;font-weight:400;letter-spacing:0.274px;">Sessions</span>
<div class="b" style="left:2121.00px;top:1531.00px;width:1236.00px;height:59.50px;background:#e6e9fc;border-radius:8px"></div>
<span class="t" style="left:2141.93px;top:1544.71px;font-size:32px;line-height:32px;color:#1b1b1b;font-weight:400;-webkit-text-stroke:0.25px #1b1b1b;">/</span>
<svg class="i" style="left:2165.50px;top:1542.40px;" width="37.5" height="37.5" viewBox="0 0 24 24" fill="none" stroke="#686868" stroke-width="2.45" stroke-linecap="round" stroke-linejoin="round"><path d="M21 13v6a2 2 0 0 1-2 2H5a2 2 0 0 1-2-2V5a2 2 0 0 1 2-2h6"/><path d="m21 3-9 9"/><path d="M15 3h6v6"/></svg>
<span class="t" style="right:118.64px;top:1545.14px;font-size:31.5px;line-height:31.5px;color:#1f1f1f;font-weight:400;-webkit-text-stroke:0.2px #1f1f1f;transform:scaleX(1.0641);transform-origin:100% 0;">466</span>
<div class="b" style="left:2121.00px;top:1611.00px;width:238.71px;height:59.50px;background:#e6e9fc;border-radius:8px"></div>
<span class="t" style="left:2141.93px;top:1624.71px;font-size:32px;line-height:32px;color:#1b1b1b;font-weight:400;letter-spacing:0.297px;-webkit-text-stroke:0.25px #1b1b1b;">/docs</span>
<svg class="i" style="left:2234.80px;top:1622.40px;" width="37.5" height="37.5" viewBox="0 0 24 24" fill="none" stroke="#686868" stroke-width="2.45" stroke-linecap="round" stroke-linejoin="round"><path d="M21 13v6a2 2 0 0 1-2 2H5a2 2 0 0 1-2-2V5a2 2 0 0 1 2-2h6"/><path d="m21 3-9 9"/><path d="M15 3h6v6"/></svg>
<span class="t" style="right:118.83px;top:1625.14px;font-size:31.5px;line-height:31.5px;color:#1f1f1f;font-weight:400;-webkit-text-stroke:0.2px #1f1f1f;transform:scaleX(1.0787);transform-origin:100% 0;">90</span>
<div class="b" style="left:2121.00px;top:1691.00px;width:172.40px;height:59.50px;background:#e6e9fc;border-radius:8px"></div>
<span class="t" style="left:2141.93px;top:1704.71px;font-size:32px;line-height:32px;color:#1b1b1b;font-weight:400;letter-spacing:0.59px;-webkit-text-stroke:0.25px #1b1b1b;">/pricing</span>
<svg class="i" style="left:2263.50px;top:1702.40px;" width="37.5" height="37.5" viewBox="0 0 24 24" fill="none" stroke="#686868" stroke-width="2.45" stroke-linecap="round" stroke-linejoin="round"><path d="M21 13v6a2 2 0 0 1-2 2H5a2 2 0 0 1-2-2V5a2 2 0 0 1 2-2h6"/><path d="m21 3-9 9"/><path d="M15 3h6v6"/></svg>
<span class="t" style="right:118.65px;top:1705.14px;font-size:31.5px;line-height:31.5px;color:#1f1f1f;font-weight:400;-webkit-text-stroke:0.2px #1f1f1f;transform:scaleX(1.0893);transform-origin:100% 0;">65</span>
<div class="b" style="left:2121.00px;top:1771.00px;width:167.10px;height:59.50px;background:#e6e9fc;border-radius:8px"></div>
<span class="t" style="left:2141.93px;top:1784.71px;font-size:32px;line-height:32px;color:#1b1b1b;font-weight:400;letter-spacing:0.33px;-webkit-text-stroke:0.25px #1b1b1b;">/login</span>
<svg class="i" style="left:2234.30px;top:1782.40px;" width="37.5" height="37.5" viewBox="0 0 24 24" fill="none" stroke="#686868" stroke-width="2.45" stroke-linecap="round" stroke-linejoin="round"><path d="M21 13v6a2 2 0 0 1-2 2H5a2 2 0 0 1-2-2V5a2 2 0 0 1 2-2h6"/><path d="m21 3-9 9"/><path d="M15 3h6v6"/></svg>
<span class="t" style="right:118.65px;top:1785.14px;font-size:31.5px;line-height:31.5px;color:#1f1f1f;font-weight:400;-webkit-text-stroke:0.2px #1f1f1f;transform:scaleX(1.0893);transform-origin:100% 0;">63</span>
<div class="b" style="left:2121.00px;top:1851.00px;width:164.45px;height:59.50px;background:#e6e9fc;border-radius:8px"></div>
<span class="t" style="left:2141.93px;top:1864.71px;font-size:32px;line-height:32px;color:#1b1b1b;font-weight:400;letter-spacing:0.598px;-webkit-text-stroke:0.25px #1b1b1b;">/docs/self-hosting</span>
<svg class="i" style="left:2415.30px;top:1862.40px;" width="37.5" height="37.5" viewBox="0 0 24 24" fill="none" stroke="#686868" stroke-width="2.45" stroke-linecap="round" stroke-linejoin="round"><path d="M21 13v6a2 2 0 0 1-2 2H5a2 2 0 0 1-2-2V5a2 2 0 0 1 2-2h6"/><path d="m21 3-9 9"/><path d="M15 3h6v6"/></svg>
<span class="t" style="right:118.29px;top:1865.14px;font-size:31.5px;line-height:31.5px;color:#1f1f1f;font-weight:400;-webkit-text-stroke:0.2px #1f1f1f;transform:scaleX(1.1001);transform-origin:100% 0;">62</span>
<div class="b" style="left:2121.00px;top:1931.00px;width:87.53px;height:59.50px;background:#e6e9fc;border-radius:8px"></div>
<span class="t" style="left:2141.93px;top:1944.71px;font-size:32px;line-height:32px;color:#1b1b1b;font-weight:400;letter-spacing:0.515px;-webkit-text-stroke:0.25px #1b1b1b;">/docs/self-hosting-guides/self-hosting-manual</span>
<svg class="i" style="left:2820.90px;top:1942.40px;" width="37.5" height="37.5" viewBox="0 0 24 24" fill="none" stroke="#686868" stroke-width="2.45" stroke-linecap="round" stroke-linejoin="round"><path d="M21 13v6a2 2 0 0 1-2 2H5a2 2 0 0 1-2-2V5a2 2 0 0 1 2-2h6"/><path d="m21 3-9 9"/><path d="M15 3h6v6"/></svg>
<span class="t" style="right:118.66px;top:1945.14px;font-size:31.5px;line-height:31.5px;color:#1f1f1f;font-weight:400;-webkit-text-stroke:0.2px #1f1f1f;transform:scaleX(1.0787);transform-origin:100% 0;">33</span>
<div class="b" style="left:2121.00px;top:1444.00px;width:104.00px;height:5.00px;background:#111"></div>
</div></body></html>
